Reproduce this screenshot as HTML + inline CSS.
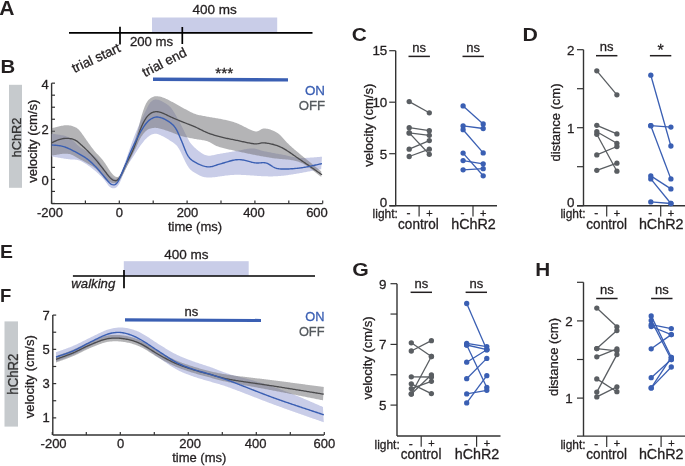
<!DOCTYPE html>
<html><head><meta charset="utf-8"><style>
html,body{margin:0;padding:0;background:#fff;}
body{width:685px;height:466px;overflow:hidden;}
svg{display:block;will-change:transform;font-family:"Liberation Sans", sans-serif;}
</style></head><body>
<svg width="685" height="466" viewBox="0 0 685 466">
<text x="0" y="0" font-size="20.5" font-weight="bold" fill="#231f20" transform="translate(-0.8 14.8) scale(1.03 1)">A</text>
<text x="0" y="0" font-size="18.5" font-weight="bold" fill="#231f20" transform="translate(0.4 72.6) scale(1.1 1)">B</text>
<text x="0" y="0" font-size="18.5" font-weight="bold" fill="#231f20" transform="translate(351.8 40.5) scale(1.13 1)">C</text>
<text x="0" y="0" font-size="18.5" font-weight="bold" fill="#231f20" transform="translate(522.6 41.1) scale(1.15 1)">D</text>
<text x="0" y="0" font-size="18.5" font-weight="bold" fill="#231f20" transform="translate(0 257.6) scale(1.05 1)">E</text>
<text x="0" y="0" font-size="18.5" font-weight="bold" fill="#231f20" transform="translate(0 301.6) scale(1 1)">F</text>
<text x="0" y="0" font-size="18.5" font-weight="bold" fill="#231f20" transform="translate(352.3 276.4) scale(1.15 1)">G</text>
<text x="0" y="0" font-size="18.5" font-weight="bold" fill="#231f20" transform="translate(535.3 276.3) scale(1.12 1)">H</text>
<rect x="152" y="17.5" width="125.2" height="15" fill="#c9cde8"/>
<line x1="69" y1="32.8" x2="312.5" y2="32.8" stroke="#000" stroke-width="1.7"/>
<line x1="120" y1="26.8" x2="120" y2="44.6" stroke="#000" stroke-width="1.7"/>
<line x1="182.3" y1="27" x2="182.3" y2="44" stroke="#000" stroke-width="1.7"/>
<text x="214.7" y="14.2" font-size="13.5" text-anchor="middle" fill="#231f20" font-weight="normal" font-style="normal" stroke="#231f20" stroke-width="0.3">400 ms</text>
<text x="151.5" y="46" font-size="13.2" text-anchor="middle" fill="#231f20" font-weight="normal" font-style="normal" stroke="#231f20" stroke-width="0.3">200 ms</text>
<text x="121.4" y="51.2" font-size="13.5" text-anchor="end" fill="#231f20" font-weight="normal" font-style="normal" stroke="#231f20" stroke-width="0.3" transform="rotate(-25 121.4 51.2)">trial start</text>
<text x="187.7" y="55.4" font-size="13.5" text-anchor="end" fill="#231f20" font-weight="normal" font-style="normal" stroke="#231f20" stroke-width="0.3" transform="rotate(-27 187.7 55.4)">trial end</text>
<line x1="51.6" y1="83.2" x2="51.6" y2="203.6" stroke="#333" stroke-width="1.4"/>
<line x1="51.6" y1="203.6" x2="322.6" y2="203.6" stroke="#333" stroke-width="1.4"/>
<line x1="51.6" y1="203.46" x2="55" y2="203.46" stroke="#333" stroke-width="1.2"/>
<line x1="51.6" y1="191.43" x2="55" y2="191.43" stroke="#333" stroke-width="1.2"/>
<line x1="51.6" y1="179.4" x2="55" y2="179.4" stroke="#333" stroke-width="1.2"/>
<line x1="51.6" y1="167.37" x2="55" y2="167.37" stroke="#333" stroke-width="1.2"/>
<line x1="51.6" y1="155.34" x2="55" y2="155.34" stroke="#333" stroke-width="1.2"/>
<line x1="51.6" y1="143.31" x2="55" y2="143.31" stroke="#333" stroke-width="1.2"/>
<line x1="51.6" y1="131.28" x2="55" y2="131.28" stroke="#333" stroke-width="1.2"/>
<line x1="51.6" y1="119.25" x2="55" y2="119.25" stroke="#333" stroke-width="1.2"/>
<line x1="51.6" y1="107.22" x2="55" y2="107.22" stroke="#333" stroke-width="1.2"/>
<line x1="51.6" y1="95.19" x2="55" y2="95.19" stroke="#333" stroke-width="1.2"/>
<line x1="51.6" y1="83.16" x2="55" y2="83.16" stroke="#333" stroke-width="1.2"/>
<line x1="51.5" y1="203.6" x2="51.5" y2="200.6" stroke="#333" stroke-width="1.2"/>
<line x1="85.4" y1="203.6" x2="85.4" y2="200.6" stroke="#333" stroke-width="1.2"/>
<line x1="119.3" y1="203.6" x2="119.3" y2="200.6" stroke="#333" stroke-width="1.2"/>
<line x1="153.2" y1="203.6" x2="153.2" y2="200.6" stroke="#333" stroke-width="1.2"/>
<line x1="187.1" y1="203.6" x2="187.1" y2="200.6" stroke="#333" stroke-width="1.2"/>
<line x1="221" y1="203.6" x2="221" y2="200.6" stroke="#333" stroke-width="1.2"/>
<line x1="254.9" y1="203.6" x2="254.9" y2="200.6" stroke="#333" stroke-width="1.2"/>
<line x1="288.8" y1="203.6" x2="288.8" y2="200.6" stroke="#333" stroke-width="1.2"/>
<line x1="322.7" y1="203.6" x2="322.7" y2="200.6" stroke="#333" stroke-width="1.2"/>
<text x="48.8" y="184.7" font-size="13" text-anchor="end" fill="#231f20" font-weight="normal" font-style="normal" stroke="#231f20" stroke-width="0.3">0</text>
<text x="48.8" y="133.7" font-size="13" text-anchor="end" fill="#231f20" font-weight="normal" font-style="normal" stroke="#231f20" stroke-width="0.3">2</text>
<text x="48.8" y="88.7" font-size="13" text-anchor="end" fill="#231f20" font-weight="normal" font-style="normal" stroke="#231f20" stroke-width="0.3">4</text>
<text x="49.9" y="217" font-size="13" text-anchor="middle" fill="#231f20" font-weight="normal" font-style="normal" stroke="#231f20" stroke-width="0.3">-200</text>
<text x="119.3" y="217" font-size="13" text-anchor="middle" fill="#231f20" font-weight="normal" font-style="normal" stroke="#231f20" stroke-width="0.3">0</text>
<text x="187.5" y="217" font-size="13" text-anchor="middle" fill="#231f20" font-weight="normal" font-style="normal" stroke="#231f20" stroke-width="0.3">200</text>
<text x="254" y="217" font-size="13" text-anchor="middle" fill="#231f20" font-weight="normal" font-style="normal" stroke="#231f20" stroke-width="0.3">400</text>
<text x="317" y="217" font-size="13" text-anchor="middle" fill="#231f20" font-weight="normal" font-style="normal" stroke="#231f20" stroke-width="0.3">600</text>
<text x="195" y="230.5" font-size="13" text-anchor="middle" fill="#231f20" font-weight="normal" font-style="normal" stroke="#231f20" stroke-width="0.3">time (ms)</text>
<text x="36.9" y="141.3" font-size="13" text-anchor="middle" fill="#231f20" font-weight="normal" font-style="normal" stroke="#231f20" stroke-width="0.3" transform="rotate(-90 36.9 141.3)">velocity (cm/s)</text>
<rect x="9" y="84.8" width="13" height="103" fill="#c6cacd"/>
<text x="21" y="137.5" font-size="12.8" text-anchor="middle" fill="#333" font-weight="normal" font-style="normal" stroke="#333" stroke-width="0.3" transform="rotate(-90 21 137.5)">hChR2</text>
<text x="325" y="94.8" font-size="13.4" text-anchor="end" fill="#3a5fb3" font-weight="normal" font-style="normal" stroke="#3a5fb3" stroke-width="0.3">ON</text>
<text x="325" y="110" font-size="13.2" text-anchor="end" fill="#555a5e" font-weight="normal" font-style="normal" stroke="#555a5e" stroke-width="0.3">OFF</text>
<polygon points="153,77.5 288,78.2 288,81.6 153,80.9" fill="#3a5fb3"/>
<text x="224.3" y="78.2" font-size="15.5" text-anchor="middle" fill="#231f20" font-weight="normal" font-style="normal" stroke="#231f20" stroke-width="0.3">***</text>
<path d="M51.80,133.70 L53.17,133.90 L53.94,134.01 L54.82,134.12 L55.78,134.25 L56.75,134.38 L57.74,134.52 L58.73,134.66 L59.72,134.81 L60.71,134.98 L61.69,135.16 L62.67,135.36 L63.64,135.58 L64.61,135.83 L65.57,136.11 L66.51,136.43 L67.43,136.79 L68.33,137.21 L69.21,137.68 L70.05,138.20 L70.86,138.78 L71.65,139.39 L72.41,140.03 L73.15,140.71 L73.87,141.40 L74.58,142.10 L75.29,142.81 L75.99,143.51 L76.71,144.21 L77.44,144.89 L78.18,145.55 L78.95,146.20 L79.74,146.81 L80.54,147.40 L81.37,147.96 L82.21,148.50 L83.06,149.01 L83.93,149.52 L84.80,150.01 L85.67,150.49 L86.55,150.97 L87.43,151.45 L88.30,151.94 L89.17,152.43 L90.03,152.93 L90.89,153.45 L91.73,153.99 L92.56,154.55 L93.37,155.13 L94.15,155.74 L94.91,156.39 L95.65,157.06 L96.35,157.77 L97.03,158.50 L97.67,159.26 L98.29,160.04 L98.90,160.84 L99.48,161.65 L100.05,162.47 L100.60,163.30 L101.15,164.14 L101.69,164.98 L102.23,165.82 L102.77,166.66 L103.32,167.50 L103.88,168.33 L104.45,169.15 L105.04,169.96 L105.64,170.75 L106.27,171.53 L106.91,172.29 L107.56,173.05 L108.23,173.79 L108.91,174.53 L109.61,175.24 L110.32,175.94 L111.05,176.61 L111.82,177.25 L112.61,177.83 L113.43,178.33 L114.28,178.71 L115.14,178.90 L115.98,178.87 L116.77,178.60 L117.50,178.10 L118.14,177.44 L118.72,176.66 L119.24,175.83 L119.72,174.96 L120.16,174.06 L120.59,173.16 L121.00,172.25 L121.40,171.33 L121.79,170.41 L122.18,169.49 L122.56,168.57 L122.94,167.64 L123.31,166.71 L123.68,165.78 L124.05,164.85 L124.41,163.92 L124.76,162.99 L125.11,162.05 L125.45,161.11 L125.79,160.17 L126.12,159.22 L126.45,158.28 L126.78,157.33 L127.10,156.39 L127.42,155.44 L127.74,154.49 L128.07,153.55 L128.39,152.60 L128.72,151.66 L129.05,150.71 L129.38,149.77 L129.71,148.83 L130.05,147.88 L130.38,146.94 L130.72,146.00 L131.06,145.06 L131.40,144.12 L131.74,143.18 L132.07,142.24 L132.42,141.30 L132.76,140.36 L133.10,139.42 L133.45,138.48 L133.81,137.55 L134.16,136.61 L134.53,135.68 L134.89,134.75 L135.26,133.82 L135.64,132.90 L136.02,131.97 L136.41,131.05 L136.80,130.13 L137.19,129.21 L137.59,128.29 L137.99,127.37 L138.39,126.46 L138.79,125.54 L139.20,124.63 L139.61,123.72 L140.02,122.81 L140.43,121.89 L140.84,120.98 L141.26,120.08 L141.68,119.17 L142.10,118.26 L142.52,117.35 L142.95,116.45 L143.38,115.55 L143.81,114.64 L144.24,113.74 L144.68,112.84 L145.11,111.94 L145.54,111.04 L145.98,110.14 L146.41,109.24 L146.85,108.34 L147.30,107.44 L147.75,106.55 L148.22,105.67 L148.71,104.80 L149.23,103.95 L149.79,103.13 L150.39,102.35 L151.06,101.63 L151.78,100.98 L152.58,100.43 L153.43,100.01 L154.34,99.72 L155.28,99.57 L156.25,99.55 L157.22,99.64 L158.18,99.83 L159.13,100.11 L160.06,100.45 L160.97,100.85 L161.87,101.28 L162.75,101.75 L163.62,102.24 L164.48,102.75 L165.33,103.28 L166.17,103.81 L167.01,104.37 L167.82,104.94 L168.61,105.54 L169.37,106.18 L170.09,106.86 L170.77,107.59 L171.41,108.35 L172.02,109.14 L172.60,109.95 L173.15,110.78 L173.69,111.63 L174.21,112.48 L174.72,113.34 L175.22,114.20 L175.72,115.07 L176.21,115.94 L176.69,116.82 L177.17,117.70 L177.65,118.57 L178.13,119.45 L178.60,120.33 L179.07,121.21 L179.54,122.10 L180.01,122.98 L180.47,123.87 L180.93,124.76 L181.39,125.65 L181.84,126.54 L182.29,127.43 L182.74,128.32 L183.19,129.22 L183.63,130.11 L184.08,131.01 L184.52,131.90 L184.97,132.80 L185.42,133.69 L185.87,134.59 L186.32,135.48 L186.77,136.37 L187.22,137.26 L187.68,138.15 L188.13,139.05 L188.59,139.93 L189.06,140.81 L189.56,141.67 L190.10,142.51 L190.68,143.31 L191.30,144.09 L191.96,144.85 L192.63,145.58 L193.33,146.29 L194.05,146.99 L194.78,147.67 L195.52,148.35 L196.27,149.00 L197.03,149.65 L197.80,150.28 L198.59,150.90 L199.38,151.51 L200.19,152.10 L201.01,152.67 L201.84,153.22 L202.69,153.75 L203.55,154.24 L204.44,154.67 L205.36,155.04 L206.30,155.32 L207.26,155.53 L208.24,155.64 L209.23,155.67 L210.21,155.63 L211.20,155.52 L212.18,155.36 L213.16,155.17 L214.14,154.95 L215.11,154.73 L216.09,154.52 L217.07,154.30 L218.05,154.11 L219.03,153.92 L220.01,153.74 L221.00,153.57 L221.98,153.40 L222.97,153.24 L223.95,153.07 L224.94,152.91 L225.93,152.74 L226.91,152.58 L227.90,152.41 L228.89,152.25 L229.87,152.09 L230.86,151.92 L231.85,151.76 L232.83,151.59 L233.82,151.43 L234.80,151.26 L235.79,151.09 L236.77,150.91 L237.76,150.73 L238.74,150.54 L239.72,150.34 L240.70,150.14 L241.68,149.94 L242.66,149.74 L243.64,149.54 L244.62,149.34 L245.60,149.16 L246.58,148.98 L247.57,148.82 L248.56,148.67 L249.55,148.56 L250.54,148.47 L251.54,148.41 L252.53,148.41 L253.52,148.46 L254.51,148.56 L255.49,148.73 L256.46,148.96 L257.41,149.23 L258.36,149.53 L259.31,149.84 L260.26,150.15 L261.22,150.44 L262.18,150.71 L263.15,150.95 L264.12,151.18 L265.10,151.39 L266.08,151.59 L267.06,151.79 L268.04,151.98 L269.02,152.17 L270.01,152.35 L270.99,152.54 L271.97,152.72 L272.95,152.91 L273.94,153.09 L274.92,153.27 L275.90,153.45 L276.89,153.63 L277.87,153.81 L278.85,153.99 L279.84,154.17 L280.82,154.36 L281.80,154.54 L282.79,154.72 L283.77,154.90 L284.75,155.09 L285.73,155.29 L286.71,155.49 L287.69,155.70 L288.66,155.92 L289.64,156.15 L290.61,156.39 L291.58,156.64 L292.55,156.87 L293.52,157.10 L294.50,157.31 L295.48,157.49 L296.47,157.64 L297.46,157.77 L298.45,157.86 L299.45,157.93 L300.45,157.97 L301.44,157.99 L302.44,157.99 L303.44,157.97 L304.44,157.95 L305.44,157.91 L306.44,157.86 L307.44,157.81 L308.44,157.75 L309.43,157.68 L310.43,157.61 L311.43,157.54 L312.43,157.47 L313.42,157.39 L314.42,157.31 L315.42,157.23 L316.41,157.15 L317.41,157.06 L318.38,156.98 L319.32,156.91 L320.17,156.84 L320.87,156.78 L322.00,156.70 L321.18,169.14 L320.58,169.25 L319.80,169.39 L318.92,169.55 L317.97,169.73 L317.00,169.91 L316.02,170.10 L315.04,170.29 L314.06,170.48 L313.07,170.67 L312.09,170.86 L311.11,171.05 L310.13,171.23 L309.15,171.42 L308.16,171.61 L307.18,171.80 L306.20,171.98 L305.22,172.17 L304.23,172.35 L303.25,172.53 L302.27,172.71 L301.28,172.89 L300.30,173.07 L299.31,173.24 L298.33,173.41 L297.34,173.58 L296.36,173.75 L295.37,173.92 L294.38,174.08 L293.40,174.24 L292.41,174.39 L291.42,174.55 L290.43,174.70 L289.44,174.84 L288.45,174.99 L287.46,175.13 L286.47,175.26 L285.48,175.39 L284.49,175.51 L283.50,175.63 L282.50,175.74 L281.51,175.85 L280.51,175.94 L279.52,176.03 L278.52,176.11 L277.52,176.18 L276.53,176.24 L275.53,176.29 L274.53,176.33 L273.53,176.36 L272.53,176.39 L271.53,176.40 L270.53,176.40 L269.53,176.40 L268.53,176.38 L267.53,176.37 L266.53,176.34 L265.53,176.31 L264.53,176.27 L263.53,176.23 L262.53,176.19 L261.53,176.13 L260.54,176.08 L259.54,176.02 L258.54,175.96 L257.54,175.90 L256.54,175.83 L255.55,175.76 L254.55,175.69 L253.55,175.62 L252.55,175.55 L251.56,175.48 L250.56,175.41 L249.56,175.34 L248.56,175.27 L247.57,175.21 L246.57,175.15 L245.57,175.08 L244.57,175.03 L243.57,174.98 L242.57,174.93 L241.57,174.89 L240.58,174.86 L239.58,174.83 L238.58,174.81 L237.58,174.81 L236.58,174.81 L235.58,174.83 L234.58,174.86 L233.58,174.90 L232.58,174.95 L231.58,175.02 L230.59,175.10 L229.59,175.18 L228.59,175.28 L227.60,175.39 L226.61,175.50 L225.62,175.62 L224.62,175.75 L223.63,175.89 L222.64,176.03 L221.65,176.17 L220.66,176.32 L219.67,176.46 L218.69,176.61 L217.70,176.75 L216.71,176.90 L215.72,177.03 L214.72,177.16 L213.73,177.27 L212.74,177.37 L211.74,177.46 L210.74,177.52 L209.75,177.55 L208.75,177.55 L207.75,177.51 L206.76,177.44 L205.77,177.33 L204.79,177.17 L203.81,176.97 L202.85,176.72 L201.90,176.42 L200.97,176.07 L200.05,175.68 L199.15,175.25 L198.27,174.78 L197.40,174.30 L196.53,173.80 L195.67,173.30 L194.81,172.79 L193.95,172.27 L193.11,171.74 L192.29,171.17 L191.51,170.56 L190.77,169.90 L190.07,169.20 L189.42,168.45 L188.80,167.67 L188.22,166.86 L187.68,166.03 L187.15,165.18 L186.66,164.31 L186.18,163.43 L185.71,162.55 L185.26,161.66 L184.82,160.76 L184.39,159.86 L183.96,158.96 L183.53,158.05 L183.11,157.14 L182.68,156.24 L182.26,155.33 L181.84,154.43 L181.41,153.52 L180.97,152.62 L180.53,151.73 L180.08,150.84 L179.61,149.95 L179.12,149.09 L178.60,148.23 L178.05,147.40 L177.47,146.60 L176.84,145.83 L176.17,145.10 L175.45,144.41 L174.71,143.75 L173.93,143.13 L173.13,142.53 L172.30,141.97 L171.46,141.43 L170.61,140.91 L169.76,140.39 L168.90,139.87 L168.04,139.36 L167.19,138.84 L166.33,138.33 L165.47,137.82 L164.60,137.32 L163.73,136.83 L162.85,136.35 L161.97,135.89 L161.07,135.45 L160.16,135.04 L159.24,134.66 L158.30,134.33 L157.36,134.05 L156.40,133.85 L155.43,133.74 L154.46,133.76 L153.50,133.89 L152.56,134.14 L151.65,134.49 L150.77,134.94 L149.93,135.45 L149.11,136.02 L148.32,136.63 L147.56,137.27 L146.83,137.94 L146.11,138.64 L145.42,139.36 L144.75,140.10 L144.10,140.86 L143.46,141.63 L142.84,142.41 L142.22,143.20 L141.62,143.99 L141.02,144.80 L140.44,145.60 L139.86,146.42 L139.29,147.24 L138.73,148.07 L138.18,148.91 L137.64,149.75 L137.10,150.59 L136.56,151.43 L136.03,152.28 L135.49,153.12 L134.95,153.96 L134.41,154.81 L133.87,155.64 L133.32,156.48 L132.77,157.31 L132.21,158.15 L131.66,158.98 L131.10,159.81 L130.55,160.64 L130.00,161.48 L129.45,162.31 L128.91,163.15 L128.38,164.00 L127.85,164.85 L127.34,165.71 L126.84,166.57 L126.35,167.45 L125.88,168.33 L125.43,169.22 L125.00,170.12 L124.59,171.03 L124.20,171.95 L123.82,172.88 L123.45,173.80 L123.08,174.74 L122.72,175.67 L122.36,176.60 L122.00,177.53 L121.62,178.46 L121.24,179.38 L120.84,180.30 L120.43,181.21 L120.01,182.12 L119.58,183.02 L119.12,183.91 L118.64,184.77 L118.10,185.60 L117.51,186.37 L116.83,187.05 L116.08,187.62 L115.24,188.04 L114.35,188.29 L113.42,188.37 L112.50,188.28 L111.60,188.01 L110.76,187.59 L109.98,187.04 L109.26,186.38 L108.59,185.66 L107.97,184.89 L107.37,184.09 L106.79,183.28 L106.20,182.47 L105.61,181.66 L105.01,180.86 L104.39,180.08 L103.76,179.31 L103.10,178.56 L102.43,177.82 L101.74,177.09 L101.05,176.37 L100.34,175.66 L99.63,174.96 L98.91,174.26 L98.19,173.58 L97.45,172.90 L96.71,172.23 L95.96,171.56 L95.21,170.91 L94.44,170.27 L93.67,169.64 L92.89,169.01 L92.10,168.39 L91.31,167.78 L90.51,167.18 L89.71,166.58 L88.91,165.99 L88.09,165.40 L87.28,164.83 L86.45,164.26 L85.62,163.71 L84.78,163.17 L83.92,162.66 L83.06,162.16 L82.17,161.69 L81.28,161.26 L80.36,160.86 L79.43,160.52 L78.48,160.23 L77.52,160.00 L76.54,159.82 L75.55,159.69 L74.56,159.61 L73.56,159.55 L72.57,159.50 L71.57,159.45 L70.57,159.39 L69.57,159.31 L68.58,159.20 L67.59,159.08 L66.60,158.94 L65.61,158.80 L64.62,158.64 L63.63,158.48 L62.65,158.32 L61.66,158.16 L60.67,158.00 L59.69,157.83 L58.70,157.67 L57.72,157.50 L56.73,157.33 L55.76,157.17 L54.81,157.01 L53.93,156.86 L53.17,156.73 L51.80,156.50 Z" fill="#c9cde8"/>
<path d="M51.80,128.20 L53.15,127.87 L53.90,127.68 L54.76,127.46 L55.69,127.23 L56.65,126.99 L57.62,126.75 L58.59,126.51 L59.57,126.28 L60.54,126.07 L61.52,125.86 L62.50,125.67 L63.49,125.50 L64.47,125.37 L65.46,125.27 L66.46,125.22 L67.45,125.22 L68.44,125.28 L69.43,125.40 L70.40,125.59 L71.37,125.82 L72.32,126.10 L73.27,126.43 L74.20,126.78 L75.11,127.17 L76.00,127.60 L76.85,128.09 L77.65,128.65 L78.39,129.29 L79.08,129.99 L79.73,130.74 L80.36,131.51 L80.97,132.30 L81.57,133.10 L82.16,133.91 L82.74,134.72 L83.32,135.54 L83.89,136.36 L84.47,137.18 L85.04,138.00 L85.61,138.82 L86.18,139.64 L86.75,140.46 L87.32,141.28 L87.90,142.10 L88.47,142.92 L89.05,143.74 L89.63,144.55 L90.21,145.36 L90.80,146.17 L91.39,146.98 L91.99,147.78 L92.60,148.57 L93.22,149.35 L93.85,150.13 L94.49,150.90 L95.14,151.66 L95.80,152.41 L96.47,153.15 L97.15,153.88 L97.83,154.62 L98.51,155.34 L99.20,156.07 L99.88,156.81 L100.55,157.54 L101.22,158.29 L101.87,159.04 L102.51,159.81 L103.13,160.59 L103.74,161.39 L104.33,162.20 L104.90,163.01 L105.46,163.84 L106.01,164.68 L106.55,165.52 L107.09,166.36 L107.62,167.21 L108.16,168.05 L108.69,168.90 L109.24,169.73 L109.79,170.57 L110.37,171.38 L110.95,172.19 L111.56,172.98 L112.19,173.76 L112.85,174.51 L113.54,175.21 L114.27,175.86 L115.05,176.41 L115.88,176.81 L116.74,177.03 L117.59,177.01 L118.41,176.76 L119.15,176.29 L119.80,175.64 L120.36,174.87 L120.85,174.03 L121.28,173.14 L121.68,172.22 L122.06,171.30 L122.42,170.37 L122.79,169.44 L123.17,168.51 L123.56,167.59 L123.96,166.68 L124.38,165.77 L124.81,164.87 L125.26,163.98 L125.71,163.08 L126.17,162.19 L126.62,161.30 L127.07,160.41 L127.52,159.52 L127.95,158.62 L128.38,157.71 L128.79,156.80 L129.19,155.89 L129.58,154.96 L129.96,154.04 L130.33,153.11 L130.68,152.17 L131.04,151.24 L131.38,150.30 L131.72,149.36 L132.06,148.42 L132.39,147.47 L132.71,146.53 L133.04,145.58 L133.36,144.64 L133.68,143.69 L134.00,142.74 L134.31,141.79 L134.62,140.84 L134.93,139.89 L135.23,138.94 L135.54,137.98 L135.84,137.03 L136.13,136.08 L136.43,135.12 L136.72,134.16 L137.00,133.20 L137.28,132.24 L137.55,131.28 L137.82,130.32 L138.08,129.35 L138.33,128.38 L138.58,127.42 L138.82,126.45 L139.07,125.48 L139.30,124.50 L139.54,123.53 L139.78,122.56 L140.02,121.59 L140.27,120.62 L140.51,119.65 L140.77,118.69 L141.02,117.72 L141.29,116.76 L141.57,115.80 L141.85,114.84 L142.15,113.88 L142.45,112.93 L142.76,111.98 L143.08,111.03 L143.40,110.08 L143.73,109.14 L144.08,108.20 L144.43,107.27 L144.80,106.34 L145.19,105.42 L145.60,104.51 L146.04,103.61 L146.52,102.74 L147.03,101.89 L147.60,101.08 L148.22,100.31 L148.90,99.59 L149.63,98.93 L150.41,98.33 L151.24,97.79 L152.11,97.32 L153.01,96.91 L153.93,96.57 L154.88,96.34 L155.84,96.20 L156.82,96.18 L157.80,96.24 L158.78,96.39 L159.75,96.59 L160.72,96.83 L161.67,97.11 L162.62,97.42 L163.57,97.75 L164.50,98.10 L165.42,98.48 L166.34,98.88 L167.25,99.30 L168.15,99.74 L169.04,100.19 L169.92,100.66 L170.79,101.14 L171.67,101.63 L172.54,102.12 L173.41,102.61 L174.28,103.10 L175.16,103.58 L176.03,104.07 L176.91,104.55 L177.78,105.04 L178.65,105.53 L179.53,106.01 L180.40,106.50 L181.28,106.98 L182.15,107.46 L183.03,107.94 L183.91,108.42 L184.79,108.89 L185.67,109.36 L186.55,109.84 L187.43,110.31 L188.31,110.79 L189.20,111.26 L190.08,111.72 L190.97,112.17 L191.87,112.61 L192.78,113.03 L193.70,113.42 L194.62,113.79 L195.56,114.12 L196.52,114.42 L197.48,114.69 L198.45,114.92 L199.42,115.13 L200.40,115.32 L201.39,115.51 L202.37,115.69 L203.35,115.88 L204.33,116.07 L205.32,116.26 L206.30,116.44 L207.28,116.63 L208.26,116.80 L209.25,116.98 L210.23,117.15 L211.22,117.32 L212.21,117.49 L213.19,117.66 L214.18,117.82 L215.16,117.99 L216.15,118.16 L217.13,118.34 L218.12,118.51 L219.10,118.69 L220.09,118.87 L221.07,119.05 L222.05,119.24 L223.03,119.43 L224.01,119.63 L224.99,119.83 L225.97,120.04 L226.95,120.25 L227.92,120.48 L228.89,120.71 L229.86,120.95 L230.83,121.21 L231.79,121.48 L232.75,121.77 L233.70,122.07 L234.65,122.39 L235.58,122.74 L236.52,123.10 L237.44,123.48 L238.36,123.87 L239.27,124.28 L240.18,124.70 L241.08,125.12 L241.98,125.56 L242.88,126.00 L243.77,126.45 L244.67,126.90 L245.56,127.35 L246.45,127.81 L247.34,128.26 L248.24,128.70 L249.14,129.14 L250.04,129.57 L250.95,129.98 L251.87,130.37 L252.80,130.73 L253.74,131.03 L254.69,131.27 L255.65,131.40 L256.60,131.41 L257.53,131.27 L258.42,130.97 L259.27,130.54 L260.08,130.03 L260.89,129.51 L261.73,129.05 L262.60,128.71 L263.53,128.52 L264.48,128.46 L265.46,128.51 L266.43,128.64 L267.41,128.83 L268.38,129.05 L269.35,129.31 L270.30,129.60 L271.25,129.92 L272.18,130.27 L273.10,130.65 L274.01,131.06 L274.91,131.50 L275.78,131.98 L276.64,132.48 L277.48,133.03 L278.29,133.60 L279.07,134.22 L279.83,134.87 L280.56,135.54 L281.27,136.25 L281.96,136.97 L282.64,137.70 L283.31,138.45 L283.97,139.20 L284.63,139.94 L285.30,140.69 L285.97,141.43 L286.65,142.16 L287.34,142.89 L288.04,143.60 L288.75,144.31 L289.47,145.00 L290.19,145.69 L290.93,146.36 L291.67,147.03 L292.43,147.69 L293.18,148.34 L293.94,149.00 L294.70,149.64 L295.46,150.29 L296.23,150.93 L297.00,151.58 L297.76,152.22 L298.53,152.86 L299.30,153.49 L300.07,154.13 L300.84,154.77 L301.62,155.40 L302.39,156.04 L303.16,156.67 L303.93,157.31 L304.71,157.94 L305.48,158.57 L306.26,159.21 L307.03,159.84 L307.81,160.47 L308.58,161.10 L309.36,161.73 L310.13,162.36 L310.91,162.99 L311.69,163.62 L312.46,164.25 L313.24,164.88 L314.02,165.51 L314.79,166.14 L315.57,166.77 L316.35,167.40 L317.12,168.03 L317.90,168.66 L318.67,169.29 L319.42,169.90 L320.13,170.48 L320.76,170.99 L321.27,171.40 L321.22,177.01 L320.70,176.60 L320.06,176.09 L319.34,175.52 L318.59,174.91 L317.82,174.28 L317.04,173.65 L316.27,173.02 L315.49,172.39 L314.71,171.77 L313.93,171.14 L313.14,170.53 L312.35,169.92 L311.55,169.31 L310.75,168.71 L309.95,168.12 L309.13,167.54 L308.31,166.97 L307.49,166.40 L306.65,165.86 L305.81,165.32 L304.95,164.80 L304.09,164.30 L303.21,163.82 L302.33,163.36 L301.43,162.93 L300.51,162.53 L299.59,162.15 L298.65,161.81 L297.70,161.50 L296.74,161.22 L295.78,160.96 L294.81,160.73 L293.83,160.52 L292.85,160.33 L291.87,160.16 L290.88,160.00 L289.89,159.86 L288.90,159.73 L287.90,159.61 L286.91,159.50 L285.92,159.40 L284.92,159.31 L283.92,159.22 L282.93,159.13 L281.93,159.05 L280.94,158.96 L279.94,158.88 L278.94,158.79 L277.95,158.70 L276.95,158.60 L275.96,158.50 L274.96,158.39 L273.97,158.26 L272.98,158.13 L271.99,157.98 L271.00,157.83 L270.02,157.67 L269.03,157.51 L268.04,157.34 L267.06,157.17 L266.07,157.01 L265.09,156.84 L264.10,156.67 L263.12,156.49 L262.13,156.32 L261.15,156.14 L260.16,155.96 L259.18,155.78 L258.20,155.60 L257.22,155.41 L256.23,155.22 L255.25,155.03 L254.27,154.83 L253.29,154.64 L252.31,154.44 L251.33,154.24 L250.35,154.03 L249.37,153.83 L248.39,153.63 L247.42,153.42 L246.44,153.22 L245.46,153.01 L244.48,152.81 L243.50,152.60 L242.52,152.40 L241.54,152.19 L240.56,151.98 L239.59,151.78 L238.61,151.57 L237.63,151.36 L236.65,151.15 L235.68,150.93 L234.70,150.72 L233.72,150.51 L232.75,150.29 L231.77,150.07 L230.79,149.85 L229.82,149.63 L228.85,149.41 L227.87,149.18 L226.90,148.95 L225.93,148.72 L224.95,148.48 L223.98,148.24 L223.02,147.99 L222.05,147.74 L221.08,147.47 L220.12,147.20 L219.17,146.91 L218.22,146.60 L217.28,146.26 L216.35,145.89 L215.44,145.49 L214.55,145.04 L213.67,144.57 L212.81,144.06 L211.97,143.54 L211.12,143.02 L210.25,142.52 L209.37,142.06 L208.47,141.65 L207.54,141.30 L206.59,141.00 L205.63,140.75 L204.65,140.53 L203.67,140.34 L202.69,140.17 L201.70,140.02 L200.71,139.87 L199.72,139.73 L198.73,139.59 L197.74,139.44 L196.76,139.29 L195.77,139.12 L194.79,138.94 L193.80,138.76 L192.82,138.57 L191.84,138.37 L190.86,138.18 L189.88,137.98 L188.90,137.78 L187.92,137.58 L186.94,137.37 L185.96,137.17 L184.99,136.96 L184.01,136.74 L183.04,136.52 L182.06,136.29 L181.10,136.03 L180.14,135.75 L179.20,135.44 L178.27,135.08 L177.36,134.69 L176.45,134.29 L175.54,133.89 L174.62,133.51 L173.69,133.14 L172.75,132.79 L171.81,132.45 L170.87,132.11 L169.93,131.78 L168.98,131.45 L168.04,131.12 L167.09,130.79 L166.15,130.47 L165.20,130.15 L164.25,129.83 L163.30,129.52 L162.35,129.22 L161.39,128.93 L160.43,128.66 L159.46,128.41 L158.49,128.19 L157.51,128.01 L156.53,127.89 L155.54,127.82 L154.55,127.82 L153.56,127.88 L152.57,127.99 L151.59,128.16 L150.63,128.39 L149.69,128.69 L148.79,129.07 L147.92,129.54 L147.10,130.09 L146.33,130.70 L145.60,131.37 L144.90,132.07 L144.23,132.81 L143.58,133.58 L142.96,134.36 L142.36,135.16 L141.78,135.97 L141.23,136.80 L140.70,137.64 L140.19,138.50 L139.72,139.38 L139.28,140.28 L138.86,141.18 L138.45,142.10 L138.06,143.02 L137.67,143.94 L137.27,144.85 L136.86,145.76 L136.44,146.67 L136.01,147.58 L135.58,148.47 L135.13,149.37 L134.69,150.27 L134.24,151.16 L133.79,152.06 L133.35,152.95 L132.90,153.85 L132.46,154.74 L132.02,155.64 L131.59,156.54 L131.16,157.45 L130.74,158.35 L130.31,159.26 L129.90,160.17 L129.48,161.08 L129.07,161.99 L128.65,162.90 L128.24,163.81 L127.82,164.71 L127.39,165.62 L126.96,166.52 L126.53,167.42 L126.09,168.32 L125.65,169.22 L125.21,170.12 L124.77,171.02 L124.33,171.91 L123.88,172.81 L123.43,173.70 L122.98,174.59 L122.52,175.48 L122.05,176.36 L121.57,177.24 L121.08,178.11 L120.56,178.96 L120.02,179.79 L119.43,180.59 L118.78,181.33 L118.07,181.99 L117.30,182.55 L116.45,182.97 L115.56,183.24 L114.62,183.36 L113.67,183.32 L112.72,183.16 L111.76,182.92 L110.82,182.62 L109.89,182.28 L108.98,181.88 L108.10,181.43 L107.25,180.91 L106.45,180.34 L105.69,179.71 L104.96,179.03 L104.27,178.31 L103.61,177.57 L102.97,176.80 L102.34,176.03 L101.71,175.25 L101.09,174.46 L100.47,173.68 L99.83,172.91 L99.18,172.15 L98.52,171.40 L97.84,170.67 L97.14,169.96 L96.41,169.28 L95.66,168.62 L94.89,167.99 L94.10,167.38 L93.29,166.80 L92.46,166.24 L91.62,165.70 L90.77,165.17 L89.91,164.66 L89.05,164.15 L88.18,163.66 L87.31,163.18 L86.43,162.70 L85.55,162.22 L84.67,161.75 L83.78,161.29 L82.90,160.82 L82.01,160.35 L81.13,159.88 L80.25,159.41 L79.38,158.92 L78.51,158.43 L77.65,157.92 L76.79,157.41 L75.93,156.90 L75.07,156.39 L74.19,155.91 L73.31,155.45 L72.41,155.03 L71.48,154.66 L70.54,154.34 L69.59,154.09 L68.61,153.90 L67.63,153.77 L66.64,153.70 L65.64,153.69 L64.65,153.71 L63.65,153.78 L62.66,153.87 L61.67,153.98 L60.67,154.11 L59.68,154.26 L58.70,154.41 L57.71,154.58 L56.73,154.75 L55.76,154.92 L54.81,155.09 L53.93,155.24 L53.17,155.37 L51.80,155.60 Z" fill="rgb(118,118,122)" fill-opacity="0.55"/>
<path d="M51.80,142.80 L53.04,142.18 L53.74,141.84 L54.54,141.45 L55.41,141.04 L56.31,140.64 L57.23,140.26 L58.16,139.90 L59.10,139.58 L60.06,139.29 L61.02,139.04 L62.00,138.82 L62.98,138.63 L63.96,138.48 L64.95,138.37 L65.94,138.31 L66.94,138.30 L67.93,138.34 L68.92,138.43 L69.91,138.57 L70.89,138.75 L71.86,138.97 L72.82,139.24 L73.77,139.55 L74.69,139.91 L75.58,140.33 L76.44,140.82 L77.25,141.38 L78.02,141.99 L78.78,142.65 L79.51,143.32 L80.25,143.99 L80.99,144.67 L81.73,145.34 L82.47,146.00 L83.22,146.68 L83.95,147.35 L84.69,148.03 L85.42,148.71 L86.14,149.40 L86.86,150.10 L87.57,150.80 L88.28,151.51 L88.97,152.22 L89.67,152.95 L90.35,153.67 L91.04,154.40 L91.71,155.14 L92.38,155.88 L93.05,156.63 L93.71,157.37 L94.37,158.13 L95.03,158.88 L95.68,159.64 L96.32,160.41 L96.96,161.18 L97.59,161.95 L98.22,162.73 L98.85,163.50 L99.48,164.29 L100.10,165.07 L100.72,165.85 L101.34,166.64 L101.96,167.42 L102.57,168.21 L103.19,169.00 L103.80,169.79 L104.40,170.59 L105.01,171.38 L105.61,172.18 L106.21,172.98 L106.81,173.78 L107.42,174.58 L108.04,175.36 L108.67,176.13 L109.32,176.89 L110.00,177.62 L110.71,178.32 L111.45,178.97 L112.23,179.57 L113.05,180.09 L113.91,180.48 L114.79,180.71 L115.66,180.73 L116.51,180.53 L117.29,180.11 L118.01,179.52 L118.66,178.81 L119.25,178.03 L119.80,177.20 L120.31,176.35 L120.80,175.47 L121.26,174.59 L121.71,173.70 L122.14,172.79 L122.56,171.89 L122.97,170.97 L123.37,170.06 L123.77,169.14 L124.16,168.22 L124.56,167.31 L124.96,166.39 L125.37,165.48 L125.78,164.57 L126.21,163.66 L126.65,162.76 L127.10,161.87 L127.56,160.98 L128.02,160.10 L128.50,159.22 L128.98,158.34 L129.45,157.46 L129.92,156.58 L130.39,155.69 L130.84,154.80 L131.28,153.91 L131.70,153.00 L132.12,152.09 L132.52,151.18 L132.91,150.26 L133.30,149.33 L133.67,148.41 L134.04,147.48 L134.40,146.55 L134.76,145.61 L135.11,144.68 L135.46,143.74 L135.80,142.80 L136.14,141.86 L136.47,140.91 L136.80,139.97 L137.11,139.02 L137.43,138.07 L137.73,137.12 L138.04,136.17 L138.35,135.22 L138.66,134.27 L138.98,133.32 L139.30,132.37 L139.63,131.43 L139.97,130.49 L140.32,129.55 L140.68,128.62 L141.06,127.69 L141.45,126.77 L141.86,125.86 L142.27,124.95 L142.70,124.05 L143.14,123.15 L143.59,122.26 L144.06,121.38 L144.55,120.50 L145.06,119.64 L145.59,118.80 L146.15,117.97 L146.74,117.17 L147.36,116.40 L148.02,115.65 L148.72,114.95 L149.47,114.29 L150.25,113.69 L151.07,113.14 L151.94,112.67 L152.84,112.28 L153.77,111.99 L154.73,111.79 L155.70,111.70 L156.69,111.69 L157.67,111.77 L158.65,111.92 L159.62,112.13 L160.58,112.39 L161.53,112.69 L162.47,113.03 L163.40,113.40 L164.31,113.80 L165.21,114.23 L166.11,114.67 L167.00,115.12 L167.89,115.57 L168.79,116.01 L169.69,116.45 L170.60,116.87 L171.51,117.28 L172.42,117.69 L173.34,118.09 L174.26,118.48 L175.18,118.87 L176.10,119.25 L177.03,119.64 L177.95,120.02 L178.88,120.40 L179.80,120.78 L180.73,121.15 L181.65,121.53 L182.58,121.90 L183.51,122.28 L184.44,122.65 L185.37,123.02 L186.30,123.38 L187.23,123.74 L188.16,124.10 L189.10,124.45 L190.03,124.81 L190.97,125.17 L191.90,125.53 L192.83,125.90 L193.75,126.29 L194.67,126.69 L195.58,127.10 L196.48,127.52 L197.38,127.96 L198.28,128.40 L199.17,128.85 L200.06,129.30 L200.96,129.75 L201.85,130.20 L202.74,130.65 L203.64,131.09 L204.55,131.51 L205.46,131.93 L206.37,132.33 L207.29,132.72 L208.22,133.09 L209.16,133.44 L210.10,133.78 L211.04,134.10 L211.99,134.42 L212.94,134.72 L213.90,135.02 L214.86,135.30 L215.82,135.58 L216.78,135.85 L217.74,136.12 L218.71,136.38 L219.67,136.64 L220.64,136.89 L221.61,137.14 L222.58,137.38 L223.55,137.62 L224.53,137.85 L225.50,138.07 L226.48,138.28 L227.46,138.49 L228.43,138.69 L229.41,138.89 L230.40,139.09 L231.38,139.28 L232.36,139.47 L233.34,139.67 L234.32,139.87 L235.30,140.07 L236.28,140.27 L237.25,140.48 L238.23,140.69 L239.21,140.90 L240.19,141.11 L241.16,141.33 L242.14,141.54 L243.12,141.75 L244.10,141.96 L245.07,142.17 L246.05,142.38 L247.03,142.58 L248.01,142.78 L248.99,142.97 L249.98,143.16 L250.96,143.33 L251.94,143.50 L252.93,143.65 L253.92,143.77 L254.91,143.86 L255.90,143.89 L256.89,143.85 L257.86,143.73 L258.83,143.54 L259.79,143.31 L260.75,143.09 L261.71,142.92 L262.69,142.84 L263.68,142.83 L264.66,142.89 L265.66,142.99 L266.65,143.12 L267.63,143.27 L268.62,143.44 L269.60,143.62 L270.58,143.81 L271.56,144.02 L272.53,144.25 L273.50,144.50 L274.46,144.77 L275.42,145.05 L276.37,145.36 L277.31,145.69 L278.25,146.04 L279.17,146.42 L280.09,146.82 L280.99,147.24 L281.89,147.68 L282.77,148.15 L283.65,148.63 L284.51,149.13 L285.37,149.64 L286.22,150.16 L287.07,150.70 L287.91,151.24 L288.74,151.79 L289.57,152.35 L290.40,152.91 L291.22,153.48 L292.04,154.05 L292.86,154.62 L293.68,155.20 L294.50,155.77 L295.32,156.34 L296.14,156.91 L296.96,157.48 L297.79,158.05 L298.61,158.62 L299.44,159.18 L300.26,159.74 L301.09,160.31 L301.92,160.87 L302.75,161.43 L303.57,161.99 L304.40,162.56 L305.22,163.13 L306.05,163.69 L306.87,164.26 L307.69,164.83 L308.51,165.40 L309.33,165.97 L310.16,166.54 L310.98,167.11 L311.80,167.68 L312.62,168.25 L313.44,168.82 L314.26,169.40 L315.08,169.97 L315.90,170.54 L316.72,171.11 L317.54,171.69 L318.35,172.26 L319.15,172.81 L319.91,173.35 L320.60,173.82 L321.15,174.21 L322.00,174.80" fill="none" stroke="#4a4a4c" stroke-width="1.3"/>
<path d="M51.80,145.00 L53.18,145.10 L53.95,145.16 L54.85,145.23 L55.80,145.31 L56.79,145.40 L57.78,145.50 L58.77,145.62 L59.76,145.76 L60.74,145.93 L61.72,146.13 L62.69,146.36 L63.65,146.63 L64.60,146.93 L65.55,147.25 L66.48,147.61 L67.40,147.99 L68.32,148.39 L69.23,148.80 L70.13,149.23 L71.03,149.66 L71.93,150.11 L72.82,150.56 L73.71,151.02 L74.60,151.48 L75.48,151.94 L76.36,152.41 L77.24,152.89 L78.12,153.37 L79.00,153.85 L79.87,154.34 L80.74,154.83 L81.61,155.33 L82.47,155.83 L83.33,156.35 L84.18,156.88 L85.01,157.42 L85.84,157.98 L86.65,158.56 L87.45,159.16 L88.24,159.78 L89.02,160.41 L89.78,161.05 L90.53,161.71 L91.27,162.38 L92.01,163.06 L92.73,163.75 L93.45,164.45 L94.15,165.15 L94.85,165.87 L95.55,166.59 L96.23,167.32 L96.91,168.06 L97.57,168.80 L98.24,169.55 L98.89,170.30 L99.54,171.06 L100.19,171.83 L100.83,172.59 L101.48,173.35 L102.12,174.12 L102.76,174.89 L103.40,175.66 L104.04,176.43 L104.67,177.20 L105.30,177.98 L105.92,178.76 L106.55,179.54 L107.19,180.31 L107.83,181.07 L108.50,181.82 L109.19,182.53 L109.92,183.20 L110.69,183.80 L111.51,184.30 L112.37,184.67 L113.26,184.87 L114.15,184.87 L115.00,184.65 L115.78,184.23 L116.48,183.63 L117.09,182.90 L117.64,182.09 L118.14,181.23 L118.60,180.35 L119.05,179.46 L119.48,178.55 L119.90,177.65 L120.32,176.74 L120.73,175.83 L121.14,174.92 L121.55,174.00 L121.95,173.09 L122.36,172.17 L122.75,171.26 L123.15,170.34 L123.54,169.42 L123.93,168.50 L124.31,167.57 L124.70,166.65 L125.08,165.73 L125.46,164.80 L125.83,163.87 L126.21,162.95 L126.57,162.01 L126.93,161.08 L127.28,160.14 L127.62,159.20 L127.96,158.27 L128.31,157.33 L128.67,156.39 L129.04,155.47 L129.42,154.54 L129.81,153.62 L130.21,152.70 L130.61,151.79 L131.02,150.88 L131.43,149.97 L131.85,149.06 L132.27,148.15 L132.70,147.25 L133.12,146.34 L133.56,145.44 L133.99,144.54 L134.43,143.64 L134.88,142.75 L135.32,141.85 L135.77,140.96 L136.22,140.06 L136.67,139.17 L137.13,138.28 L137.59,137.39 L138.05,136.51 L138.52,135.63 L139.00,134.75 L139.48,133.87 L139.97,133.00 L140.47,132.13 L140.97,131.27 L141.48,130.41 L141.99,129.55 L142.51,128.69 L143.04,127.84 L143.57,127.00 L144.12,126.16 L144.68,125.34 L145.26,124.52 L145.86,123.73 L146.49,122.95 L147.15,122.20 L147.84,121.48 L148.56,120.80 L149.32,120.16 L150.11,119.56 L150.94,119.01 L151.79,118.50 L152.67,118.06 L153.58,117.67 L154.52,117.37 L155.47,117.17 L156.44,117.07 L157.42,117.07 L158.40,117.16 L159.38,117.33 L160.34,117.55 L161.30,117.83 L162.24,118.15 L163.17,118.50 L164.09,118.90 L164.98,119.34 L165.87,119.80 L166.73,120.30 L167.59,120.82 L168.43,121.36 L169.25,121.92 L170.06,122.50 L170.86,123.10 L171.63,123.74 L172.37,124.40 L173.08,125.10 L173.76,125.82 L174.40,126.59 L175.00,127.38 L175.57,128.20 L176.10,129.04 L176.59,129.91 L177.06,130.79 L177.51,131.68 L177.94,132.59 L178.35,133.49 L178.76,134.41 L179.15,135.33 L179.55,136.25 L179.94,137.17 L180.33,138.09 L180.72,139.01 L181.12,139.92 L181.51,140.84 L181.90,141.76 L182.29,142.69 L182.66,143.61 L183.03,144.54 L183.40,145.47 L183.76,146.40 L184.12,147.34 L184.49,148.27 L184.85,149.20 L185.23,150.13 L185.61,151.05 L186.01,151.97 L186.42,152.87 L186.86,153.77 L187.33,154.65 L187.83,155.51 L188.37,156.35 L188.94,157.16 L189.57,157.94 L190.23,158.67 L190.94,159.36 L191.70,160.00 L192.50,160.60 L193.32,161.15 L194.17,161.68 L195.03,162.18 L195.91,162.66 L196.79,163.13 L197.68,163.58 L198.58,164.02 L199.49,164.43 L200.40,164.83 L201.33,165.21 L202.26,165.56 L203.21,165.89 L204.16,166.18 L205.12,166.43 L206.10,166.63 L207.08,166.78 L208.06,166.86 L209.05,166.86 L210.04,166.80 L211.02,166.66 L211.99,166.46 L212.96,166.21 L213.91,165.93 L214.86,165.62 L215.81,165.31 L216.76,164.99 L217.71,164.69 L218.67,164.40 L219.63,164.12 L220.59,163.84 L221.55,163.57 L222.51,163.29 L223.47,163.01 L224.43,162.72 L225.39,162.43 L226.34,162.14 L227.30,161.85 L228.26,161.57 L229.22,161.29 L230.18,161.02 L231.15,160.77 L232.12,160.53 L233.09,160.30 L234.07,160.10 L235.05,159.93 L236.04,159.79 L237.03,159.68 L238.03,159.62 L239.02,159.60 L240.02,159.62 L241.01,159.70 L242.00,159.82 L242.98,159.97 L243.96,160.16 L244.94,160.38 L245.91,160.61 L246.88,160.87 L247.84,161.13 L248.80,161.41 L249.76,161.68 L250.73,161.94 L251.69,162.20 L252.66,162.43 L253.64,162.64 L254.62,162.80 L255.61,162.92 L256.60,162.99 L257.60,163.00 L258.59,162.98 L259.59,162.91 L260.58,162.83 L261.58,162.74 L262.57,162.67 L263.56,162.65 L264.55,162.70 L265.52,162.83 L266.47,163.06 L267.39,163.38 L268.28,163.80 L269.14,164.29 L269.97,164.82 L270.80,165.39 L271.62,165.96 L272.45,166.50 L273.30,167.01 L274.18,167.47 L275.09,167.86 L276.02,168.19 L276.98,168.45 L277.95,168.65 L278.94,168.79 L279.93,168.90 L280.92,168.98 L281.92,169.02 L282.92,169.05 L283.92,169.07 L284.92,169.06 L285.92,169.05 L286.92,169.02 L287.92,168.99 L288.91,168.94 L289.91,168.89 L290.91,168.82 L291.91,168.76 L292.91,168.68 L293.90,168.60 L294.90,168.51 L295.89,168.42 L296.89,168.33 L297.88,168.22 L298.88,168.11 L299.87,168.00 L300.86,167.87 L301.85,167.73 L302.84,167.59 L303.83,167.43 L304.81,167.26 L305.80,167.09 L306.78,166.90 L307.76,166.71 L308.74,166.52 L309.72,166.32 L310.70,166.11 L311.68,165.91 L312.66,165.69 L313.63,165.48 L314.61,165.26 L315.59,165.04 L316.56,164.82 L317.53,164.60 L318.49,164.38 L319.40,164.17 L320.23,163.99 L320.91,163.84 L322.00,163.60 L322.00,163.60" fill="none" stroke="#3a5fb3" stroke-width="1.4"/>
<rect x="123.8" y="261.2" width="124.9" height="14.5" fill="#c9cde8"/>
<line x1="72.9" y1="276" x2="315" y2="276" stroke="#000" stroke-width="1.7"/>
<line x1="124" y1="270" x2="124" y2="288.2" stroke="#000" stroke-width="1.7"/>
<text x="186.3" y="259.3" font-size="13.5" text-anchor="middle" fill="#231f20" font-weight="normal" font-style="normal" stroke="#231f20" stroke-width="0.3">400 ms</text>
<text x="71.3" y="287.6" font-size="13.2" text-anchor="start" fill="#231f20" font-weight="normal" font-style="italic" stroke="#231f20" stroke-width="0.3">walking</text>
<line x1="52.8" y1="315.1" x2="52.8" y2="435" stroke="#333" stroke-width="1.4"/>
<line x1="52.8" y1="435" x2="324" y2="435" stroke="#333" stroke-width="1.4"/>
<line x1="52.8" y1="417.87" x2="56.2" y2="417.87" stroke="#333" stroke-width="1.2"/>
<line x1="52.8" y1="400.74" x2="56.2" y2="400.74" stroke="#333" stroke-width="1.2"/>
<line x1="52.8" y1="383.61" x2="56.2" y2="383.61" stroke="#333" stroke-width="1.2"/>
<line x1="52.8" y1="366.48" x2="56.2" y2="366.48" stroke="#333" stroke-width="1.2"/>
<line x1="52.8" y1="349.35" x2="56.2" y2="349.35" stroke="#333" stroke-width="1.2"/>
<line x1="52.8" y1="332.22" x2="56.2" y2="332.22" stroke="#333" stroke-width="1.2"/>
<line x1="52.8" y1="315.09" x2="56.2" y2="315.09" stroke="#333" stroke-width="1.2"/>
<line x1="52.3" y1="435" x2="52.3" y2="432" stroke="#333" stroke-width="1.2"/>
<line x1="86.3" y1="435" x2="86.3" y2="432" stroke="#333" stroke-width="1.2"/>
<line x1="120.3" y1="435" x2="120.3" y2="432" stroke="#333" stroke-width="1.2"/>
<line x1="154.3" y1="435" x2="154.3" y2="432" stroke="#333" stroke-width="1.2"/>
<line x1="188.3" y1="435" x2="188.3" y2="432" stroke="#333" stroke-width="1.2"/>
<line x1="222.3" y1="435" x2="222.3" y2="432" stroke="#333" stroke-width="1.2"/>
<line x1="256.3" y1="435" x2="256.3" y2="432" stroke="#333" stroke-width="1.2"/>
<line x1="290.3" y1="435" x2="290.3" y2="432" stroke="#333" stroke-width="1.2"/>
<line x1="324.3" y1="435" x2="324.3" y2="432" stroke="#333" stroke-width="1.2"/>
<text x="49.8" y="422.37" font-size="13" text-anchor="end" fill="#231f20" font-weight="normal" font-style="normal" stroke="#231f20" stroke-width="0.3">1</text>
<text x="49.8" y="388.11" font-size="13" text-anchor="end" fill="#231f20" font-weight="normal" font-style="normal" stroke="#231f20" stroke-width="0.3">3</text>
<text x="49.8" y="353.85" font-size="13" text-anchor="end" fill="#231f20" font-weight="normal" font-style="normal" stroke="#231f20" stroke-width="0.3">5</text>
<text x="49.8" y="319.59" font-size="13" text-anchor="end" fill="#231f20" font-weight="normal" font-style="normal" stroke="#231f20" stroke-width="0.3">7</text>
<text x="53.6" y="448.2" font-size="13" text-anchor="middle" fill="#231f20" font-weight="normal" font-style="normal" stroke="#231f20" stroke-width="0.3">-200</text>
<text x="120.6" y="448.2" font-size="13" text-anchor="middle" fill="#231f20" font-weight="normal" font-style="normal" stroke="#231f20" stroke-width="0.3">0</text>
<text x="190.1" y="448.2" font-size="13" text-anchor="middle" fill="#231f20" font-weight="normal" font-style="normal" stroke="#231f20" stroke-width="0.3">200</text>
<text x="255.7" y="448.2" font-size="13" text-anchor="middle" fill="#231f20" font-weight="normal" font-style="normal" stroke="#231f20" stroke-width="0.3">400</text>
<text x="324.3" y="448.2" font-size="13" text-anchor="middle" fill="#231f20" font-weight="normal" font-style="normal" stroke="#231f20" stroke-width="0.3">600</text>
<text x="199.3" y="462" font-size="13" text-anchor="middle" fill="#231f20" font-weight="normal" font-style="normal" stroke="#231f20" stroke-width="0.3">time (ms)</text>
<text x="33.8" y="376.8" font-size="13" text-anchor="middle" fill="#231f20" font-weight="normal" font-style="normal" stroke="#231f20" stroke-width="0.3" transform="rotate(-90 33.8 376.8)">velocity (cm/s)</text>
<rect x="4.5" y="321.4" width="13.5" height="105.2" fill="#c6cacd"/>
<text x="18.2" y="374.2" font-size="15.2" text-anchor="middle" fill="#333" stroke="#333" stroke-width="0.3" textLength="41" lengthAdjust="spacingAndGlyphs" transform="rotate(-90 18.2 374.2)">hChR2</text>
<text x="324.5" y="321" font-size="12.8" text-anchor="end" fill="#3a5fb3" font-weight="normal" font-style="normal" stroke="#3a5fb3" stroke-width="0.3">ON</text>
<text x="324.5" y="335.5" font-size="12.8" text-anchor="end" fill="#555a5e" font-weight="normal" font-style="normal" stroke="#555a5e" stroke-width="0.3">OFF</text>
<polygon points="125,318.3 261,318.9 261,322.1 125,321.5" fill="#3a5fb3"/>
<text x="191.3" y="315.6" font-size="13" text-anchor="middle" fill="#231f20" font-weight="normal" font-style="normal" stroke="#231f20" stroke-width="0.3">ns</text>
<path d="M56.00,352.20 L57.31,351.74 L58.04,351.49 L58.88,351.19 L59.79,350.88 L60.72,350.55 L61.66,350.22 L62.61,349.89 L63.55,349.56 L64.49,349.23 L65.44,348.89 L66.38,348.55 L67.32,348.20 L68.25,347.86 L69.19,347.50 L70.12,347.14 L71.05,346.78 L71.98,346.40 L72.90,346.02 L73.82,345.62 L74.73,345.22 L75.65,344.81 L76.55,344.39 L77.46,343.96 L78.36,343.53 L79.26,343.09 L80.15,342.64 L81.05,342.20 L81.94,341.75 L82.83,341.29 L83.72,340.84 L84.61,340.39 L85.51,339.94 L86.40,339.49 L87.30,339.05 L88.19,338.60 L89.09,338.16 L89.99,337.72 L90.89,337.28 L91.78,336.84 L92.68,336.40 L93.58,335.96 L94.48,335.51 L95.37,335.07 L96.27,334.63 L97.17,334.19 L98.07,333.76 L98.97,333.32 L99.87,332.89 L100.78,332.47 L101.68,332.05 L102.60,331.64 L103.51,331.24 L104.43,330.85 L105.36,330.48 L106.30,330.12 L107.24,329.79 L108.19,329.49 L109.15,329.21 L110.11,328.96 L111.08,328.72 L112.06,328.51 L113.04,328.31 L114.02,328.12 L115.01,327.95 L115.99,327.80 L116.98,327.67 L117.98,327.57 L118.97,327.50 L119.97,327.47 L120.97,327.47 L121.96,327.50 L122.96,327.56 L123.96,327.65 L124.95,327.77 L125.94,327.91 L126.92,328.08 L127.90,328.27 L128.88,328.49 L129.85,328.72 L130.81,328.98 L131.77,329.25 L132.73,329.54 L133.68,329.84 L134.63,330.16 L135.57,330.49 L136.51,330.85 L137.43,331.22 L138.35,331.62 L139.26,332.04 L140.16,332.47 L141.05,332.92 L141.93,333.39 L142.80,333.88 L143.67,334.38 L144.53,334.89 L145.38,335.41 L146.23,335.94 L147.07,336.48 L147.91,337.02 L148.75,337.57 L149.58,338.12 L150.41,338.68 L151.24,339.23 L152.08,339.79 L152.91,340.34 L153.74,340.90 L154.57,341.45 L155.41,342.00 L156.25,342.55 L157.09,343.09 L157.93,343.63 L158.77,344.16 L159.62,344.69 L160.47,345.22 L161.32,345.75 L162.17,346.28 L163.02,346.80 L163.87,347.33 L164.72,347.86 L165.57,348.38 L166.42,348.90 L167.28,349.42 L168.14,349.94 L168.99,350.45 L169.86,350.96 L170.72,351.46 L171.59,351.96 L172.46,352.45 L173.34,352.93 L174.22,353.40 L175.10,353.87 L175.99,354.32 L176.89,354.76 L177.79,355.20 L178.69,355.62 L179.60,356.04 L180.52,356.44 L181.44,356.84 L182.36,357.23 L183.28,357.61 L184.21,357.98 L185.14,358.35 L186.07,358.71 L187.01,359.06 L187.94,359.42 L188.88,359.77 L189.82,360.11 L190.76,360.46 L191.70,360.80 L192.63,361.14 L193.58,361.48 L194.52,361.82 L195.46,362.15 L196.41,362.48 L197.35,362.80 L198.30,363.12 L199.25,363.43 L200.20,363.74 L201.15,364.04 L202.11,364.35 L203.06,364.65 L204.01,364.96 L204.96,365.26 L205.92,365.57 L206.87,365.88 L207.82,366.19 L208.76,366.51 L209.71,366.83 L210.65,367.16 L211.60,367.50 L212.53,367.84 L213.47,368.19 L214.41,368.55 L215.34,368.91 L216.27,369.28 L217.20,369.64 L218.13,370.01 L219.06,370.38 L219.99,370.74 L220.92,371.10 L221.86,371.46 L222.79,371.81 L223.73,372.16 L224.67,372.50 L225.61,372.83 L226.56,373.16 L227.51,373.48 L228.46,373.79 L229.41,374.10 L230.36,374.40 L231.32,374.69 L232.28,374.97 L233.24,375.25 L234.20,375.52 L235.16,375.79 L236.13,376.05 L237.10,376.31 L238.06,376.56 L239.03,376.82 L240.00,377.07 L240.96,377.32 L241.93,377.57 L242.90,377.82 L243.87,378.07 L244.84,378.32 L245.81,378.57 L246.77,378.82 L247.74,379.07 L248.71,379.33 L249.68,379.58 L250.64,379.84 L251.61,380.10 L252.57,380.36 L253.54,380.62 L254.50,380.89 L255.46,381.16 L256.42,381.44 L257.38,381.72 L258.34,382.00 L259.30,382.29 L260.26,382.59 L261.21,382.88 L262.16,383.18 L263.12,383.49 L264.07,383.79 L265.02,384.10 L265.97,384.41 L266.92,384.72 L267.87,385.03 L268.82,385.35 L269.77,385.66 L270.72,385.98 L271.67,386.30 L272.61,386.63 L273.56,386.95 L274.50,387.28 L275.45,387.61 L276.39,387.95 L277.33,388.28 L278.27,388.62 L279.21,388.96 L280.15,389.30 L281.09,389.64 L282.03,389.98 L282.97,390.33 L283.91,390.68 L284.84,391.03 L285.78,391.38 L286.71,391.74 L287.65,392.10 L288.58,392.46 L289.51,392.82 L290.44,393.18 L291.37,393.55 L292.30,393.92 L293.23,394.29 L294.16,394.66 L295.09,395.04 L296.01,395.42 L296.94,395.80 L297.86,396.18 L298.78,396.57 L299.71,396.95 L300.63,397.34 L301.55,397.73 L302.47,398.12 L303.39,398.51 L304.31,398.90 L305.23,399.29 L306.15,399.68 L307.07,400.08 L307.99,400.47 L308.91,400.86 L309.83,401.26 L310.74,401.66 L311.66,402.05 L312.58,402.45 L313.50,402.85 L314.42,403.24 L315.33,403.64 L316.25,404.04 L317.17,404.44 L318.09,404.84 L319.00,405.23 L319.91,405.63 L320.80,406.01 L321.64,406.37 L322.37,406.69 L322.96,406.94 L323.80,422.30 L322.59,421.87 L321.89,421.63 L321.06,421.34 L320.17,421.02 L319.24,420.69 L318.30,420.36 L317.35,420.03 L316.41,419.70 L315.47,419.37 L314.52,419.04 L313.58,418.71 L312.64,418.38 L311.69,418.05 L310.75,417.72 L309.80,417.39 L308.86,417.06 L307.92,416.73 L306.97,416.40 L306.03,416.07 L305.09,415.73 L304.14,415.40 L303.20,415.07 L302.26,414.74 L301.31,414.41 L300.37,414.08 L299.43,413.74 L298.48,413.41 L297.54,413.08 L296.60,412.75 L295.65,412.41 L294.71,412.08 L293.77,411.75 L292.83,411.41 L291.88,411.08 L290.94,410.74 L290.00,410.41 L289.06,410.07 L288.11,409.74 L287.17,409.40 L286.23,409.06 L285.29,408.73 L284.35,408.39 L283.41,408.05 L282.47,407.71 L281.53,407.37 L280.58,407.03 L279.64,406.69 L278.70,406.35 L277.76,406.01 L276.83,405.67 L275.89,405.32 L274.95,404.98 L274.01,404.63 L273.07,404.28 L272.13,403.94 L271.20,403.59 L270.26,403.23 L269.33,402.88 L268.39,402.53 L267.45,402.18 L266.52,401.82 L265.59,401.46 L264.65,401.11 L263.72,400.75 L262.78,400.39 L261.85,400.03 L260.92,399.67 L259.98,399.32 L259.05,398.95 L258.12,398.59 L257.19,398.23 L256.25,397.87 L255.32,397.51 L254.39,397.15 L253.46,396.79 L252.52,396.42 L251.59,396.06 L250.66,395.70 L249.73,395.34 L248.80,394.97 L247.87,394.61 L246.93,394.25 L246.00,393.89 L245.07,393.52 L244.14,393.16 L243.20,392.80 L242.27,392.44 L241.34,392.08 L240.41,391.72 L239.47,391.36 L238.54,391.00 L237.60,390.65 L236.67,390.29 L235.74,389.93 L234.80,389.58 L233.86,389.23 L232.93,388.88 L231.99,388.53 L231.05,388.19 L230.11,387.85 L229.17,387.51 L228.23,387.17 L227.28,386.84 L226.34,386.51 L225.39,386.19 L224.45,385.87 L223.50,385.56 L222.54,385.25 L221.59,384.95 L220.64,384.65 L219.68,384.36 L218.72,384.08 L217.76,383.80 L216.80,383.53 L215.84,383.25 L214.87,382.98 L213.91,382.71 L212.95,382.43 L211.99,382.15 L211.03,381.87 L210.07,381.58 L209.11,381.30 L208.16,381.02 L207.20,380.74 L206.24,380.46 L205.27,380.18 L204.31,379.91 L203.35,379.63 L202.39,379.36 L201.43,379.08 L200.47,378.80 L199.51,378.51 L198.55,378.22 L197.60,377.92 L196.65,377.62 L195.70,377.31 L194.75,376.99 L193.81,376.66 L192.86,376.33 L191.92,375.99 L190.98,375.66 L190.04,375.32 L189.10,374.97 L188.16,374.62 L187.23,374.27 L186.29,373.91 L185.36,373.55 L184.43,373.18 L183.51,372.80 L182.59,372.41 L181.67,372.00 L180.76,371.59 L179.86,371.17 L178.96,370.73 L178.06,370.29 L177.18,369.83 L176.30,369.35 L175.42,368.86 L174.56,368.36 L173.70,367.85 L172.85,367.33 L172.00,366.79 L171.16,366.25 L170.33,365.70 L169.50,365.14 L168.67,364.58 L167.85,364.01 L167.03,363.44 L166.21,362.86 L165.39,362.29 L164.58,361.71 L163.76,361.13 L162.95,360.55 L162.13,359.98 L161.31,359.40 L160.49,358.83 L159.67,358.26 L158.85,357.69 L158.03,357.11 L157.21,356.54 L156.40,355.96 L155.58,355.38 L154.77,354.80 L153.96,354.21 L153.15,353.63 L152.34,353.04 L151.52,352.46 L150.71,351.87 L149.90,351.29 L149.09,350.71 L148.28,350.13 L147.46,349.55 L146.64,348.97 L145.82,348.41 L144.99,347.84 L144.16,347.29 L143.32,346.74 L142.48,346.20 L141.63,345.68 L140.77,345.16 L139.91,344.66 L139.04,344.16 L138.16,343.69 L137.28,343.22 L136.38,342.78 L135.48,342.35 L134.57,341.94 L133.65,341.55 L132.72,341.18 L131.79,340.83 L130.84,340.50 L129.89,340.20 L128.93,339.93 L127.96,339.69 L126.99,339.47 L126.01,339.29 L125.02,339.12 L124.03,338.97 L123.04,338.85 L122.05,338.73 L121.05,338.63 L120.06,338.55 L119.06,338.48 L118.06,338.43 L117.06,338.40 L116.06,338.39 L115.06,338.39 L114.07,338.42 L113.07,338.45 L112.07,338.50 L111.07,338.55 L110.07,338.62 L109.08,338.71 L108.09,338.83 L107.11,339.00 L106.14,339.22 L105.18,339.48 L104.23,339.79 L103.30,340.13 L102.37,340.50 L101.45,340.89 L100.54,341.30 L99.63,341.72 L98.73,342.15 L97.83,342.58 L96.93,343.03 L96.03,343.47 L95.14,343.92 L94.25,344.37 L93.35,344.82 L92.46,345.27 L91.57,345.72 L90.67,346.17 L89.78,346.61 L88.88,347.06 L87.99,347.51 L87.10,347.96 L86.21,348.41 L85.31,348.86 L84.43,349.32 L83.54,349.78 L82.65,350.24 L81.76,350.70 L80.87,351.16 L79.98,351.62 L79.09,352.07 L78.20,352.52 L77.30,352.96 L76.40,353.40 L75.50,353.83 L74.60,354.26 L73.69,354.67 L72.77,355.08 L71.86,355.48 L70.94,355.87 L70.01,356.25 L69.09,356.62 L68.16,357.00 L67.23,357.36 L66.29,357.72 L65.36,358.08 L64.43,358.44 L63.49,358.80 L62.56,359.15 L61.62,359.50 L60.69,359.85 L59.76,360.19 L58.86,360.53 L58.02,360.84 L57.30,361.11 L56.00,361.60 Z" fill="#c9cde8"/>
<path d="M56.00,356.10 L57.31,355.63 L58.03,355.37 L58.88,355.07 L59.78,354.75 L60.71,354.42 L61.65,354.09 L62.59,353.75 L63.53,353.41 L64.47,353.07 L65.41,352.73 L66.35,352.38 L67.29,352.03 L68.23,351.68 L69.16,351.32 L70.09,350.96 L71.02,350.59 L71.95,350.22 L72.87,349.83 L73.79,349.43 L74.70,349.03 L75.61,348.61 L76.52,348.19 L77.42,347.76 L78.32,347.32 L79.21,346.88 L80.11,346.43 L81.00,345.98 L81.89,345.53 L82.79,345.08 L83.68,344.64 L84.58,344.19 L85.48,343.76 L86.38,343.33 L87.29,342.91 L88.20,342.50 L89.11,342.09 L90.03,341.69 L90.95,341.30 L91.87,340.91 L92.80,340.53 L93.72,340.15 L94.65,339.77 L95.58,339.40 L96.50,339.03 L97.44,338.67 L98.37,338.31 L99.31,337.95 L100.24,337.61 L101.18,337.27 L102.13,336.94 L103.08,336.63 L104.03,336.34 L104.99,336.06 L105.96,335.82 L106.93,335.60 L107.92,335.43 L108.90,335.29 L109.90,335.18 L110.89,335.09 L111.89,335.02 L112.89,334.97 L113.88,334.92 L114.88,334.90 L115.88,334.89 L116.88,334.91 L117.88,334.94 L118.88,335.00 L119.87,335.07 L120.87,335.17 L121.86,335.28 L122.85,335.40 L123.84,335.54 L124.83,335.69 L125.82,335.86 L126.80,336.04 L127.78,336.24 L128.75,336.46 L129.73,336.69 L130.69,336.95 L131.66,337.21 L132.62,337.49 L133.57,337.78 L134.53,338.08 L135.47,338.40 L136.41,338.74 L137.35,339.10 L138.27,339.48 L139.19,339.88 L140.10,340.29 L140.99,340.73 L141.89,341.18 L142.77,341.65 L143.64,342.13 L144.51,342.63 L145.37,343.13 L146.23,343.65 L147.08,344.18 L147.93,344.71 L148.77,345.24 L149.61,345.78 L150.45,346.32 L151.30,346.86 L152.14,347.40 L152.98,347.94 L153.83,348.47 L154.67,349.01 L155.52,349.54 L156.37,350.06 L157.23,350.57 L158.09,351.08 L158.96,351.59 L159.82,352.08 L160.69,352.57 L161.57,353.06 L162.44,353.55 L163.32,354.03 L164.20,354.50 L165.08,354.98 L165.96,355.45 L166.84,355.92 L167.73,356.38 L168.62,356.84 L169.51,357.29 L170.40,357.74 L171.30,358.18 L172.20,358.62 L173.10,359.05 L174.01,359.47 L174.92,359.88 L175.83,360.29 L176.75,360.69 L177.67,361.07 L178.60,361.45 L179.53,361.82 L180.46,362.18 L181.39,362.54 L182.33,362.88 L183.27,363.22 L184.22,363.55 L185.16,363.88 L186.11,364.20 L187.06,364.51 L188.01,364.82 L188.96,365.13 L189.91,365.43 L190.87,365.74 L191.82,366.04 L192.77,366.34 L193.73,366.64 L194.68,366.94 L195.64,367.23 L196.59,367.53 L197.55,367.82 L198.51,368.10 L199.47,368.39 L200.43,368.67 L201.39,368.95 L202.35,369.22 L203.31,369.49 L204.28,369.75 L205.24,370.01 L206.21,370.26 L207.18,370.51 L208.15,370.75 L209.12,370.99 L210.09,371.23 L211.07,371.46 L212.04,371.69 L213.01,371.91 L213.99,372.13 L214.96,372.36 L215.94,372.57 L216.92,372.78 L217.90,372.99 L218.88,373.18 L219.86,373.37 L220.84,373.55 L221.83,373.73 L222.81,373.90 L223.80,374.06 L224.79,374.22 L225.77,374.37 L226.76,374.52 L227.75,374.67 L228.74,374.81 L229.73,374.96 L230.72,375.10 L231.71,375.23 L232.70,375.37 L233.69,375.50 L234.69,375.63 L235.68,375.76 L236.67,375.88 L237.66,376.01 L238.65,376.13 L239.65,376.25 L240.64,376.38 L241.63,376.50 L242.62,376.62 L243.62,376.74 L244.61,376.86 L245.60,376.97 L246.60,377.09 L247.59,377.21 L248.58,377.33 L249.57,377.45 L250.57,377.56 L251.56,377.68 L252.55,377.80 L253.55,377.91 L254.54,378.03 L255.53,378.15 L256.53,378.26 L257.52,378.38 L258.51,378.50 L259.51,378.62 L260.50,378.73 L261.49,378.85 L262.49,378.97 L263.48,379.09 L264.47,379.21 L265.46,379.33 L266.46,379.45 L267.45,379.57 L268.44,379.69 L269.43,379.81 L270.43,379.93 L271.42,380.06 L272.41,380.18 L273.40,380.31 L274.40,380.43 L275.39,380.56 L276.38,380.69 L277.37,380.81 L278.36,380.94 L279.35,381.07 L280.35,381.20 L281.34,381.33 L282.33,381.46 L283.32,381.59 L284.31,381.72 L285.30,381.85 L286.30,381.98 L287.29,382.11 L288.28,382.24 L289.27,382.37 L290.26,382.50 L291.25,382.64 L292.24,382.77 L293.23,382.90 L294.23,383.03 L295.22,383.16 L296.21,383.30 L297.20,383.43 L298.19,383.56 L299.18,383.69 L300.17,383.83 L301.16,383.96 L302.16,384.09 L303.15,384.23 L304.14,384.36 L305.13,384.49 L306.12,384.63 L307.11,384.76 L308.10,384.89 L309.09,385.03 L310.08,385.16 L311.07,385.29 L312.07,385.43 L313.06,385.56 L314.05,385.69 L315.04,385.83 L316.03,385.96 L317.02,386.10 L318.01,386.23 L319.00,386.36 L319.98,386.49 L320.92,386.62 L321.79,386.74 L322.53,386.84 L323.80,387.01 L323.02,400.34 L322.43,400.22 L321.67,400.07 L320.79,399.90 L319.85,399.71 L318.88,399.52 L317.90,399.33 L316.92,399.13 L315.94,398.94 L314.96,398.74 L313.98,398.55 L313.00,398.35 L312.02,398.16 L311.04,397.96 L310.06,397.77 L309.08,397.57 L308.10,397.38 L307.12,397.18 L306.13,396.99 L305.15,396.79 L304.17,396.60 L303.19,396.40 L302.21,396.21 L301.23,396.02 L300.25,395.82 L299.27,395.63 L298.29,395.43 L297.31,395.24 L296.32,395.05 L295.34,394.85 L294.36,394.66 L293.38,394.47 L292.40,394.27 L291.42,394.08 L290.44,393.89 L289.46,393.69 L288.48,393.50 L287.49,393.31 L286.51,393.12 L285.53,392.92 L284.55,392.73 L283.57,392.54 L282.59,392.35 L281.61,392.16 L280.62,391.97 L279.64,391.78 L278.66,391.59 L277.68,391.40 L276.70,391.21 L275.71,391.02 L274.73,390.83 L273.75,390.64 L272.77,390.46 L271.79,390.27 L270.80,390.08 L269.82,389.90 L268.84,389.72 L267.85,389.53 L266.87,389.35 L265.89,389.17 L264.90,388.99 L263.92,388.80 L262.94,388.62 L261.95,388.44 L260.97,388.26 L259.99,388.08 L259.00,387.90 L258.02,387.72 L257.04,387.54 L256.05,387.37 L255.07,387.19 L254.08,387.01 L253.10,386.83 L252.12,386.65 L251.13,386.47 L250.15,386.29 L249.16,386.11 L248.18,385.93 L247.20,385.75 L246.21,385.57 L245.23,385.39 L244.25,385.21 L243.26,385.03 L242.28,384.85 L241.30,384.67 L240.31,384.49 L239.33,384.30 L238.35,384.12 L237.36,383.93 L236.38,383.75 L235.40,383.56 L234.42,383.37 L233.44,383.18 L232.45,382.99 L231.47,382.79 L230.49,382.59 L229.51,382.39 L228.53,382.19 L227.56,381.99 L226.58,381.78 L225.60,381.57 L224.62,381.35 L223.65,381.13 L222.67,380.90 L221.70,380.67 L220.73,380.44 L219.76,380.20 L218.79,379.95 L217.82,379.69 L216.86,379.44 L215.89,379.18 L214.93,378.92 L213.96,378.65 L213.00,378.39 L212.03,378.13 L211.06,377.87 L210.10,377.62 L209.13,377.36 L208.16,377.11 L207.20,376.85 L206.23,376.60 L205.26,376.34 L204.30,376.08 L203.33,375.82 L202.37,375.56 L201.40,375.29 L200.44,375.02 L199.48,374.75 L198.52,374.47 L197.56,374.19 L196.60,373.91 L195.64,373.62 L194.68,373.33 L193.73,373.04 L192.77,372.74 L191.82,372.44 L190.87,372.14 L189.91,371.83 L188.96,371.53 L188.01,371.22 L187.06,370.91 L186.11,370.60 L185.16,370.28 L184.22,369.95 L183.27,369.62 L182.33,369.28 L181.39,368.94 L180.46,368.58 L179.53,368.22 L178.60,367.85 L177.67,367.47 L176.75,367.09 L175.83,366.69 L174.92,366.28 L174.01,365.87 L173.10,365.45 L172.20,365.02 L171.30,364.58 L170.40,364.14 L169.51,363.69 L168.62,363.24 L167.73,362.78 L166.84,362.32 L165.96,361.85 L165.08,361.38 L164.20,360.90 L163.32,360.43 L162.44,359.95 L161.57,359.46 L160.69,358.97 L159.82,358.48 L158.96,357.99 L158.09,357.48 L157.23,356.97 L156.37,356.46 L155.52,355.94 L154.67,355.41 L153.83,354.87 L152.98,354.34 L152.14,353.80 L151.30,353.26 L150.45,352.72 L149.61,352.18 L148.77,351.64 L147.93,351.11 L147.08,350.58 L146.23,350.05 L145.37,349.53 L144.51,349.03 L143.64,348.53 L142.77,348.05 L141.89,347.58 L140.99,347.13 L140.10,346.69 L139.19,346.28 L138.27,345.88 L137.35,345.50 L136.41,345.14 L135.47,344.80 L134.53,344.48 L133.57,344.18 L132.62,343.89 L131.66,343.61 L130.69,343.35 L129.73,343.09 L128.75,342.86 L127.78,342.64 L126.80,342.44 L125.82,342.26 L124.83,342.09 L123.84,341.94 L122.85,341.80 L121.86,341.68 L120.87,341.57 L119.87,341.47 L118.88,341.40 L117.88,341.34 L116.88,341.31 L115.88,341.29 L114.88,341.30 L113.88,341.32 L112.89,341.37 L111.89,341.42 L110.89,341.49 L109.90,341.58 L108.90,341.69 L107.92,341.83 L106.93,342.00 L105.96,342.22 L104.99,342.46 L104.03,342.74 L103.08,343.03 L102.13,343.34 L101.18,343.67 L100.24,344.01 L99.31,344.35 L98.37,344.71 L97.44,345.07 L96.50,345.43 L95.58,345.80 L94.65,346.17 L93.72,346.55 L92.80,346.93 L91.87,347.31 L90.95,347.70 L90.03,348.09 L89.11,348.49 L88.20,348.90 L87.29,349.31 L86.38,349.73 L85.48,350.16 L84.58,350.59 L83.68,351.04 L82.79,351.48 L81.89,351.93 L81.00,352.38 L80.11,352.83 L79.21,353.28 L78.32,353.72 L77.42,354.16 L76.52,354.59 L75.61,355.01 L74.70,355.43 L73.79,355.83 L72.87,356.23 L71.95,356.62 L71.02,356.99 L70.09,357.36 L69.16,357.72 L68.23,358.08 L67.29,358.43 L66.35,358.78 L65.41,359.13 L64.47,359.47 L63.53,359.81 L62.59,360.15 L61.65,360.49 L60.71,360.82 L59.78,361.15 L58.88,361.47 L58.03,361.77 L57.31,362.03 L56.00,362.50 Z" fill="rgb(118,118,122)" fill-opacity="0.55"/>
<path d="M56.00,359.30 L57.31,358.83 L58.03,358.57 L58.88,358.27 L59.78,357.95 L60.71,357.62 L61.65,357.29 L62.59,356.95 L63.53,356.61 L64.47,356.27 L65.41,355.93 L66.35,355.58 L67.29,355.23 L68.23,354.88 L69.16,354.52 L70.09,354.16 L71.02,353.79 L71.95,353.42 L72.87,353.03 L73.79,352.63 L74.70,352.23 L75.61,351.81 L76.52,351.39 L77.42,350.96 L78.32,350.52 L79.21,350.08 L80.11,349.63 L81.00,349.18 L81.89,348.73 L82.79,348.28 L83.68,347.84 L84.58,347.39 L85.48,346.96 L86.38,346.53 L87.29,346.11 L88.20,345.70 L89.11,345.29 L90.03,344.89 L90.95,344.50 L91.87,344.11 L92.80,343.73 L93.72,343.35 L94.65,342.97 L95.58,342.60 L96.50,342.23 L97.44,341.87 L98.37,341.51 L99.31,341.15 L100.24,340.81 L101.18,340.47 L102.13,340.14 L103.08,339.83 L104.03,339.54 L104.99,339.26 L105.96,339.02 L106.93,338.80 L107.92,338.63 L108.90,338.49 L109.90,338.38 L110.89,338.29 L111.89,338.22 L112.89,338.17 L113.88,338.12 L114.88,338.10 L115.88,338.09 L116.88,338.11 L117.88,338.14 L118.88,338.20 L119.87,338.27 L120.87,338.37 L121.86,338.48 L122.85,338.60 L123.84,338.74 L124.83,338.89 L125.82,339.06 L126.80,339.24 L127.78,339.44 L128.75,339.66 L129.73,339.89 L130.69,340.15 L131.66,340.41 L132.62,340.69 L133.57,340.98 L134.53,341.28 L135.47,341.60 L136.41,341.94 L137.35,342.30 L138.27,342.68 L139.19,343.08 L140.10,343.49 L140.99,343.93 L141.89,344.38 L142.77,344.85 L143.64,345.33 L144.51,345.83 L145.37,346.33 L146.23,346.85 L147.08,347.38 L147.93,347.91 L148.77,348.44 L149.61,348.98 L150.45,349.52 L151.30,350.06 L152.14,350.60 L152.98,351.14 L153.83,351.67 L154.67,352.21 L155.52,352.74 L156.37,353.26 L157.23,353.77 L158.09,354.28 L158.96,354.79 L159.82,355.28 L160.69,355.77 L161.57,356.26 L162.44,356.75 L163.32,357.23 L164.20,357.70 L165.08,358.18 L165.96,358.65 L166.84,359.12 L167.73,359.58 L168.62,360.04 L169.51,360.49 L170.40,360.94 L171.30,361.38 L172.20,361.82 L173.10,362.25 L174.01,362.67 L174.92,363.08 L175.83,363.49 L176.75,363.89 L177.67,364.27 L178.60,364.65 L179.53,365.02 L180.46,365.38 L181.39,365.74 L182.33,366.08 L183.27,366.42 L184.22,366.75 L185.16,367.08 L186.11,367.40 L187.06,367.71 L188.01,368.02 L188.96,368.33 L189.91,368.63 L190.87,368.94 L191.82,369.24 L192.77,369.54 L193.73,369.83 L194.69,370.13 L195.64,370.42 L196.60,370.71 L197.56,370.99 L198.52,371.27 L199.48,371.54 L200.44,371.81 L201.41,372.08 L202.37,372.35 L203.34,372.61 L204.30,372.87 L205.27,373.13 L206.23,373.39 L207.20,373.64 L208.17,373.90 L209.13,374.16 L210.10,374.42 L211.06,374.68 L212.03,374.95 L212.99,375.23 L213.95,375.51 L214.90,375.79 L215.86,376.08 L216.82,376.37 L217.78,376.65 L218.74,376.93 L219.70,377.20 L220.67,377.46 L221.64,377.71 L222.61,377.95 L223.58,378.18 L224.56,378.40 L225.53,378.61 L226.51,378.81 L227.49,379.01 L228.47,379.20 L229.46,379.39 L230.44,379.57 L231.42,379.75 L232.41,379.92 L233.39,380.08 L234.38,380.25 L235.37,380.41 L236.35,380.57 L237.34,380.73 L238.33,380.88 L239.32,381.03 L240.31,381.18 L241.30,381.33 L242.28,381.48 L243.27,381.63 L244.26,381.78 L245.25,381.92 L246.24,382.07 L247.23,382.22 L248.22,382.36 L249.21,382.50 L250.20,382.65 L251.19,382.79 L252.18,382.93 L253.17,383.08 L254.16,383.22 L255.15,383.36 L256.14,383.50 L257.13,383.65 L258.12,383.79 L259.11,383.93 L260.10,384.07 L261.09,384.22 L262.08,384.36 L263.07,384.51 L264.06,384.65 L265.04,384.80 L266.03,384.94 L267.02,385.09 L268.01,385.24 L269.00,385.38 L269.99,385.53 L270.98,385.68 L271.97,385.83 L272.96,385.98 L273.94,386.14 L274.93,386.29 L275.92,386.45 L276.91,386.60 L277.90,386.76 L278.88,386.91 L279.87,387.07 L280.86,387.23 L281.85,387.38 L282.83,387.54 L283.82,387.70 L284.81,387.86 L285.80,388.02 L286.78,388.18 L287.77,388.33 L288.76,388.49 L289.75,388.65 L290.73,388.81 L291.72,388.97 L292.71,389.13 L293.69,389.29 L294.68,389.45 L295.67,389.61 L296.66,389.77 L297.64,389.93 L298.63,390.09 L299.62,390.25 L300.60,390.41 L301.59,390.57 L302.58,390.73 L303.56,390.90 L304.55,391.06 L305.54,391.22 L306.53,391.38 L307.51,391.54 L308.50,391.70 L309.49,391.86 L310.47,392.02 L311.46,392.19 L312.45,392.35 L313.43,392.51 L314.42,392.67 L315.41,392.83 L316.39,392.99 L317.38,393.15 L318.37,393.31 L319.35,393.47 L320.31,393.63 L321.23,393.78 L322.06,393.92 L322.75,394.03 L323.80,394.20 L323.80,394.20" fill="none" stroke="#4a4a4c" stroke-width="1.3"/>
<path d="M56.00,357.00 L57.32,356.56 L58.05,356.31 L58.90,356.03 L59.81,355.73 L60.75,355.42 L61.69,355.11 L62.64,354.79 L63.59,354.47 L64.54,354.15 L65.48,353.82 L66.43,353.49 L67.37,353.16 L68.31,352.82 L69.25,352.47 L70.18,352.11 L71.11,351.75 L72.04,351.37 L72.96,350.99 L73.87,350.59 L74.78,350.17 L75.69,349.75 L76.59,349.31 L77.48,348.87 L78.38,348.41 L79.26,347.95 L80.15,347.49 L81.03,347.02 L81.91,346.54 L82.79,346.07 L83.67,345.60 L84.55,345.12 L85.44,344.65 L86.32,344.19 L87.21,343.72 L88.10,343.27 L88.99,342.81 L89.88,342.36 L90.77,341.91 L91.67,341.46 L92.56,341.01 L93.45,340.56 L94.35,340.12 L95.24,339.67 L96.14,339.23 L97.04,338.78 L97.93,338.34 L98.83,337.91 L99.73,337.47 L100.64,337.04 L101.54,336.62 L102.45,336.21 L103.37,335.80 L104.29,335.41 L105.21,335.03 L106.14,334.67 L107.08,334.33 L108.03,334.02 L108.99,333.73 L109.95,333.48 L110.92,333.25 L111.90,333.05 L112.88,332.87 L113.87,332.71 L114.86,332.58 L115.85,332.47 L116.85,332.40 L117.84,332.37 L118.84,332.38 L119.84,332.42 L120.83,332.51 L121.82,332.63 L122.81,332.78 L123.79,332.96 L124.76,333.17 L125.74,333.40 L126.70,333.65 L127.66,333.93 L128.62,334.22 L129.57,334.53 L130.51,334.86 L131.45,335.21 L132.38,335.57 L133.31,335.95 L134.22,336.34 L135.14,336.75 L136.04,337.18 L136.94,337.62 L137.83,338.08 L138.71,338.54 L139.59,339.02 L140.46,339.51 L141.33,340.01 L142.19,340.52 L143.05,341.03 L143.90,341.55 L144.75,342.08 L145.59,342.62 L146.43,343.16 L147.27,343.71 L148.10,344.26 L148.94,344.81 L149.77,345.37 L150.60,345.92 L151.43,346.48 L152.26,347.04 L153.09,347.59 L153.92,348.15 L154.75,348.71 L155.58,349.26 L156.42,349.81 L157.25,350.36 L158.09,350.91 L158.93,351.46 L159.76,352.00 L160.60,352.55 L161.44,353.10 L162.27,353.65 L163.11,354.20 L163.94,354.75 L164.78,355.30 L165.61,355.85 L166.45,356.40 L167.28,356.95 L168.12,357.50 L168.96,358.04 L169.81,358.57 L170.65,359.10 L171.50,359.63 L172.36,360.15 L173.22,360.66 L174.09,361.15 L174.96,361.64 L175.84,362.12 L176.72,362.58 L177.61,363.04 L178.51,363.48 L179.41,363.91 L180.32,364.33 L181.23,364.74 L182.15,365.14 L183.07,365.53 L183.99,365.92 L184.92,366.29 L185.85,366.66 L186.78,367.02 L187.71,367.37 L188.65,367.72 L189.59,368.07 L190.53,368.41 L191.47,368.74 L192.42,369.08 L193.36,369.40 L194.31,369.72 L195.26,370.04 L196.21,370.34 L197.17,370.63 L198.12,370.92 L199.08,371.20 L200.05,371.47 L201.01,371.74 L201.97,372.00 L202.94,372.26 L203.90,372.53 L204.87,372.79 L205.83,373.06 L206.80,373.32 L207.76,373.60 L208.72,373.88 L209.68,374.17 L210.63,374.46 L211.59,374.75 L212.54,375.05 L213.50,375.34 L214.45,375.64 L215.41,375.94 L216.36,376.25 L217.31,376.55 L218.26,376.86 L219.21,377.17 L220.16,377.49 L221.11,377.81 L222.05,378.14 L223.00,378.47 L223.94,378.80 L224.88,379.14 L225.82,379.47 L226.76,379.81 L227.70,380.16 L228.64,380.50 L229.58,380.85 L230.52,381.20 L231.45,381.55 L232.39,381.90 L233.32,382.26 L234.26,382.61 L235.19,382.97 L236.12,383.33 L237.06,383.69 L237.99,384.06 L238.92,384.42 L239.85,384.78 L240.78,385.15 L241.71,385.51 L242.64,385.88 L243.57,386.24 L244.51,386.61 L245.44,386.97 L246.37,387.34 L247.30,387.71 L248.23,388.07 L249.16,388.44 L250.09,388.80 L251.02,389.17 L251.95,389.53 L252.88,389.90 L253.81,390.26 L254.74,390.63 L255.68,390.99 L256.61,391.35 L257.54,391.72 L258.47,392.08 L259.41,392.44 L260.34,392.80 L261.27,393.16 L262.20,393.52 L263.14,393.88 L264.07,394.23 L265.01,394.59 L265.94,394.94 L266.88,395.30 L267.81,395.65 L268.75,396.00 L269.69,396.35 L270.62,396.70 L271.56,397.04 L272.50,397.39 L273.44,397.73 L274.38,398.07 L275.32,398.41 L276.26,398.75 L277.20,399.09 L278.15,399.42 L279.09,399.75 L280.03,400.08 L280.98,400.42 L281.92,400.74 L282.87,401.07 L283.81,401.40 L284.76,401.73 L285.70,402.05 L286.65,402.38 L287.59,402.70 L288.54,403.02 L289.49,403.35 L290.43,403.67 L291.38,403.99 L292.33,404.31 L293.27,404.63 L294.22,404.95 L295.17,405.27 L296.12,405.59 L297.06,405.91 L298.01,406.23 L298.96,406.54 L299.91,406.86 L300.86,407.18 L301.81,407.49 L302.75,407.81 L303.70,408.13 L304.65,408.44 L305.60,408.76 L306.55,409.07 L307.50,409.39 L308.45,409.70 L309.40,410.02 L310.35,410.33 L311.30,410.65 L312.25,410.96 L313.19,411.28 L314.14,411.59 L315.09,411.90 L316.04,412.22 L316.99,412.53 L317.94,412.85 L318.89,413.16 L319.83,413.47 L320.75,413.78 L321.61,414.07 L322.36,414.32 L322.96,414.52 L323.80,414.80" fill="none" stroke="#3a5fb3" stroke-width="1.4"/>
<line x1="395.7" y1="50.7" x2="395.7" y2="205.8" stroke="#333" stroke-width="1.4"/>
<line x1="389.5" y1="205.8" x2="497" y2="205.8" stroke="#333" stroke-width="1.4"/>
<line x1="389.2" y1="50.7" x2="395.7" y2="50.7" stroke="#333" stroke-width="1.2"/>
<line x1="389.2" y1="102.2" x2="395.7" y2="102.2" stroke="#333" stroke-width="1.2"/>
<line x1="389.2" y1="153.7" x2="395.7" y2="153.7" stroke="#333" stroke-width="1.2"/>
<line x1="389.2" y1="205.8" x2="395.7" y2="205.8" stroke="#333" stroke-width="1.2"/>
<text x="387.3" y="54.9" font-size="13.4" text-anchor="end" fill="#231f20" font-weight="normal" font-style="normal" stroke="#231f20" stroke-width="0.3">15</text>
<text x="387.3" y="107" font-size="13.4" text-anchor="end" fill="#231f20" font-weight="normal" font-style="normal" stroke="#231f20" stroke-width="0.3">10</text>
<text x="387.3" y="158.5" font-size="13.4" text-anchor="end" fill="#231f20" font-weight="normal" font-style="normal" stroke="#231f20" stroke-width="0.3">5</text>
<text x="387.3" y="207.1" font-size="13.4" text-anchor="end" fill="#231f20" font-weight="normal" font-style="normal" stroke="#231f20" stroke-width="0.3">0</text>
<text x="372.7" y="125.3" font-size="13" text-anchor="middle" fill="#231f20" font-weight="normal" font-style="normal" stroke="#231f20" stroke-width="0.3" transform="rotate(-90 372.7 125.3)">velocity (cm/s)</text>
<line x1="419.1" y1="205.8" x2="419.1" y2="216.6" stroke="#333" stroke-width="1.2"/>
<text x="408.6" y="217.3" font-size="12" text-anchor="middle" fill="#231f20" font-weight="normal" font-style="normal" stroke="#231f20" stroke-width="0.3">-</text>
<text x="429.4" y="217" font-size="11" text-anchor="middle" fill="#231f20" font-weight="normal" font-style="normal" stroke="#231f20" stroke-width="0.3">+</text>
<line x1="473" y1="205.8" x2="473" y2="216.6" stroke="#333" stroke-width="1.2"/>
<text x="462.5" y="217.3" font-size="12" text-anchor="middle" fill="#231f20" font-weight="normal" font-style="normal" stroke="#231f20" stroke-width="0.3">-</text>
<text x="483.3" y="217" font-size="11" text-anchor="middle" fill="#231f20" font-weight="normal" font-style="normal" stroke="#231f20" stroke-width="0.3">+</text>
<text x="372.6" y="218.4" font-size="12.3" text-anchor="start" fill="#231f20" stroke="#231f20" stroke-width="0.3" textLength="25.2" lengthAdjust="spacingAndGlyphs">light:</text>
<text x="418.4" y="228.7" font-size="14" text-anchor="middle" fill="#231f20" stroke="#231f20" stroke-width="0.3" textLength="40.6" lengthAdjust="spacingAndGlyphs">control</text>
<text x="473.5" y="228.7" font-size="14" text-anchor="middle" fill="#231f20" stroke="#231f20" stroke-width="0.3" textLength="44.6" lengthAdjust="spacingAndGlyphs">hChR2</text>
<line x1="408.5" y1="56.4" x2="429.9" y2="56.4" stroke="#231f20" stroke-width="1.5"/>
<text x="419.2" y="51.9" font-size="13" text-anchor="middle" fill="#231f20" font-weight="normal" font-style="normal" stroke="#231f20" stroke-width="0.3">ns</text>
<line x1="462.5" y1="56.4" x2="483.9" y2="56.4" stroke="#231f20" stroke-width="1.5"/>
<text x="473.2" y="51.9" font-size="13" text-anchor="middle" fill="#231f20" font-weight="normal" font-style="normal" stroke="#231f20" stroke-width="0.3">ns</text>
<line x1="409.2" y1="101.6" x2="429.3" y2="112.8" stroke="#5a5e62" stroke-width="1.3"/>
<line x1="409.2" y1="127.7" x2="429.3" y2="130.7" stroke="#5a5e62" stroke-width="1.3"/>
<line x1="409.2" y1="132.9" x2="429.3" y2="135.3" stroke="#5a5e62" stroke-width="1.3"/>
<line x1="409.2" y1="132.9" x2="429.3" y2="154.3" stroke="#5a5e62" stroke-width="1.3"/>
<line x1="409.2" y1="149.2" x2="429.3" y2="140.6" stroke="#5a5e62" stroke-width="1.3"/>
<line x1="409.2" y1="156.5" x2="429.3" y2="149.2" stroke="#5a5e62" stroke-width="1.3"/>
<circle cx="409.2" cy="101.6" r="2.65" fill="#5a5e62"/>
<circle cx="429.3" cy="112.8" r="2.65" fill="#5a5e62"/>
<circle cx="409.2" cy="127.7" r="2.65" fill="#5a5e62"/>
<circle cx="429.3" cy="130.7" r="2.65" fill="#5a5e62"/>
<circle cx="409.2" cy="132.9" r="2.65" fill="#5a5e62"/>
<circle cx="429.3" cy="135.3" r="2.65" fill="#5a5e62"/>
<circle cx="409.2" cy="132.9" r="2.65" fill="#5a5e62"/>
<circle cx="429.3" cy="154.3" r="2.65" fill="#5a5e62"/>
<circle cx="409.2" cy="149.2" r="2.65" fill="#5a5e62"/>
<circle cx="429.3" cy="140.6" r="2.65" fill="#5a5e62"/>
<circle cx="409.2" cy="156.5" r="2.65" fill="#5a5e62"/>
<circle cx="429.3" cy="149.2" r="2.65" fill="#5a5e62"/>
<line x1="463.1" y1="105.9" x2="483.2" y2="124" stroke="#3a5fb3" stroke-width="1.3"/>
<line x1="463.1" y1="125.9" x2="483.2" y2="128.5" stroke="#3a5fb3" stroke-width="1.3"/>
<line x1="463.1" y1="129.7" x2="483.2" y2="152.9" stroke="#3a5fb3" stroke-width="1.3"/>
<line x1="463.1" y1="153.1" x2="483.2" y2="175.8" stroke="#3a5fb3" stroke-width="1.3"/>
<line x1="463.1" y1="160.6" x2="483.2" y2="163.8" stroke="#3a5fb3" stroke-width="1.3"/>
<line x1="463.1" y1="169.8" x2="483.2" y2="168.7" stroke="#3a5fb3" stroke-width="1.3"/>
<circle cx="463.1" cy="105.9" r="2.65" fill="#3a5fb3"/>
<circle cx="483.2" cy="124" r="2.65" fill="#3a5fb3"/>
<circle cx="463.1" cy="125.9" r="2.65" fill="#3a5fb3"/>
<circle cx="483.2" cy="128.5" r="2.65" fill="#3a5fb3"/>
<circle cx="463.1" cy="129.7" r="2.65" fill="#3a5fb3"/>
<circle cx="483.2" cy="152.9" r="2.65" fill="#3a5fb3"/>
<circle cx="463.1" cy="153.1" r="2.65" fill="#3a5fb3"/>
<circle cx="483.2" cy="175.8" r="2.65" fill="#3a5fb3"/>
<circle cx="463.1" cy="160.6" r="2.65" fill="#3a5fb3"/>
<circle cx="483.2" cy="163.8" r="2.65" fill="#3a5fb3"/>
<circle cx="463.1" cy="169.8" r="2.65" fill="#3a5fb3"/>
<circle cx="483.2" cy="168.7" r="2.65" fill="#3a5fb3"/>
<line x1="583.5" y1="49.7" x2="583.5" y2="205.8" stroke="#333" stroke-width="1.4"/>
<line x1="577" y1="205.8" x2="685" y2="205.8" stroke="#333" stroke-width="1.4"/>
<line x1="577" y1="49.7" x2="583.5" y2="49.7" stroke="#333" stroke-width="1.2"/>
<line x1="577" y1="88.7" x2="583.5" y2="88.7" stroke="#333" stroke-width="1.2"/>
<line x1="577" y1="127.7" x2="583.5" y2="127.7" stroke="#333" stroke-width="1.2"/>
<line x1="577" y1="166.7" x2="583.5" y2="166.7" stroke="#333" stroke-width="1.2"/>
<line x1="577" y1="205.8" x2="583.5" y2="205.8" stroke="#333" stroke-width="1.2"/>
<text x="574.5" y="54.55" font-size="13.4" text-anchor="end" fill="#231f20" font-weight="normal" font-style="normal" stroke="#231f20" stroke-width="0.3">2</text>
<text x="574.5" y="132.5" font-size="13.4" text-anchor="end" fill="#231f20" font-weight="normal" font-style="normal" stroke="#231f20" stroke-width="0.3">1</text>
<text x="574.5" y="207.1" font-size="13.4" text-anchor="end" fill="#231f20" font-weight="normal" font-style="normal" stroke="#231f20" stroke-width="0.3">0</text>
<text x="559.6" y="122.5" font-size="13" text-anchor="middle" fill="#231f20" font-weight="normal" font-style="normal" stroke="#231f20" stroke-width="0.3" transform="rotate(-90 559.6 122.5)">distance (cm)</text>
<line x1="606.7" y1="205.8" x2="606.7" y2="216.6" stroke="#333" stroke-width="1.2"/>
<text x="596.2" y="217.3" font-size="12" text-anchor="middle" fill="#231f20" font-weight="normal" font-style="normal" stroke="#231f20" stroke-width="0.3">-</text>
<text x="617" y="217" font-size="11" text-anchor="middle" fill="#231f20" font-weight="normal" font-style="normal" stroke="#231f20" stroke-width="0.3">+</text>
<line x1="660.7" y1="205.8" x2="660.7" y2="216.6" stroke="#333" stroke-width="1.2"/>
<text x="650.2" y="217.3" font-size="12" text-anchor="middle" fill="#231f20" font-weight="normal" font-style="normal" stroke="#231f20" stroke-width="0.3">-</text>
<text x="671" y="217" font-size="11" text-anchor="middle" fill="#231f20" font-weight="normal" font-style="normal" stroke="#231f20" stroke-width="0.3">+</text>
<text x="560.4" y="218.4" font-size="12.3" text-anchor="start" fill="#231f20" stroke="#231f20" stroke-width="0.3" textLength="25.2" lengthAdjust="spacingAndGlyphs">light:</text>
<text x="606.65" y="228.7" font-size="14" text-anchor="middle" fill="#231f20" stroke="#231f20" stroke-width="0.3" textLength="40.6" lengthAdjust="spacingAndGlyphs">control</text>
<text x="661.2" y="228.7" font-size="14" text-anchor="middle" fill="#231f20" stroke="#231f20" stroke-width="0.3" textLength="44.6" lengthAdjust="spacingAndGlyphs">hChR2</text>
<line x1="596" y1="55.7" x2="617.4" y2="55.7" stroke="#231f20" stroke-width="1.5"/>
<text x="606.7" y="51.2" font-size="13" text-anchor="middle" fill="#231f20" font-weight="normal" font-style="normal" stroke="#231f20" stroke-width="0.3">ns</text>
<line x1="649.9" y1="55.7" x2="671.3" y2="55.7" stroke="#231f20" stroke-width="1.5"/>
<text x="660.6" y="56.3" font-size="16" text-anchor="middle" fill="#231f20" font-weight="normal" font-style="normal" stroke="#231f20" stroke-width="0.3">*</text>
<line x1="596.8" y1="70.8" x2="616.9" y2="94.8" stroke="#5a5e62" stroke-width="1.3"/>
<line x1="596.8" y1="125.3" x2="616.9" y2="133.9" stroke="#5a5e62" stroke-width="1.3"/>
<line x1="596.8" y1="131.7" x2="616.9" y2="143.3" stroke="#5a5e62" stroke-width="1.3"/>
<line x1="596.8" y1="134.3" x2="616.9" y2="171.2" stroke="#5a5e62" stroke-width="1.3"/>
<line x1="596.8" y1="154.9" x2="616.9" y2="146.5" stroke="#5a5e62" stroke-width="1.3"/>
<line x1="596.8" y1="170.3" x2="616.9" y2="163.2" stroke="#5a5e62" stroke-width="1.3"/>
<circle cx="596.8" cy="70.8" r="2.65" fill="#5a5e62"/>
<circle cx="616.9" cy="94.8" r="2.65" fill="#5a5e62"/>
<circle cx="596.8" cy="125.3" r="2.65" fill="#5a5e62"/>
<circle cx="616.9" cy="133.9" r="2.65" fill="#5a5e62"/>
<circle cx="596.8" cy="131.7" r="2.65" fill="#5a5e62"/>
<circle cx="616.9" cy="143.3" r="2.65" fill="#5a5e62"/>
<circle cx="596.8" cy="134.3" r="2.65" fill="#5a5e62"/>
<circle cx="616.9" cy="171.2" r="2.65" fill="#5a5e62"/>
<circle cx="596.8" cy="154.9" r="2.65" fill="#5a5e62"/>
<circle cx="616.9" cy="146.5" r="2.65" fill="#5a5e62"/>
<circle cx="596.8" cy="170.3" r="2.65" fill="#5a5e62"/>
<circle cx="616.9" cy="163.2" r="2.65" fill="#5a5e62"/>
<line x1="650.8" y1="75.2" x2="670.9" y2="146" stroke="#3a5fb3" stroke-width="1.3"/>
<line x1="650.8" y1="125.7" x2="670.9" y2="127.1" stroke="#3a5fb3" stroke-width="1.3"/>
<line x1="650.8" y1="125.7" x2="670.9" y2="178.9" stroke="#3a5fb3" stroke-width="1.3"/>
<line x1="650.8" y1="175.9" x2="670.9" y2="188.9" stroke="#3a5fb3" stroke-width="1.3"/>
<line x1="650.8" y1="178.9" x2="670.9" y2="203.5" stroke="#3a5fb3" stroke-width="1.3"/>
<line x1="650.8" y1="201.9" x2="670.9" y2="203.5" stroke="#3a5fb3" stroke-width="1.3"/>
<circle cx="650.8" cy="75.2" r="2.65" fill="#3a5fb3"/>
<circle cx="670.9" cy="146" r="2.65" fill="#3a5fb3"/>
<circle cx="650.8" cy="125.7" r="2.65" fill="#3a5fb3"/>
<circle cx="670.9" cy="127.1" r="2.65" fill="#3a5fb3"/>
<circle cx="650.8" cy="125.7" r="2.65" fill="#3a5fb3"/>
<circle cx="670.9" cy="178.9" r="2.65" fill="#3a5fb3"/>
<circle cx="650.8" cy="175.9" r="2.65" fill="#3a5fb3"/>
<circle cx="670.9" cy="188.9" r="2.65" fill="#3a5fb3"/>
<circle cx="650.8" cy="178.9" r="2.65" fill="#3a5fb3"/>
<circle cx="670.9" cy="203.5" r="2.65" fill="#3a5fb3"/>
<circle cx="650.8" cy="201.9" r="2.65" fill="#3a5fb3"/>
<circle cx="670.9" cy="203.5" r="2.65" fill="#3a5fb3"/>
<line x1="397" y1="283.7" x2="397" y2="436" stroke="#333" stroke-width="1.4"/>
<line x1="397" y1="436" x2="500.5" y2="436" stroke="#333" stroke-width="1.4"/>
<line x1="390.5" y1="283.7" x2="397" y2="283.7" stroke="#333" stroke-width="1.2"/>
<line x1="390.5" y1="314.05" x2="397" y2="314.05" stroke="#333" stroke-width="1.2"/>
<line x1="390.5" y1="344.4" x2="397" y2="344.4" stroke="#333" stroke-width="1.2"/>
<line x1="390.5" y1="374.75" x2="397" y2="374.75" stroke="#333" stroke-width="1.2"/>
<line x1="390.5" y1="405.1" x2="397" y2="405.1" stroke="#333" stroke-width="1.2"/>
<text x="386.5" y="288.5" font-size="13.4" text-anchor="end" fill="#231f20" font-weight="normal" font-style="normal" stroke="#231f20" stroke-width="0.3">9</text>
<text x="386.5" y="349.2" font-size="13.4" text-anchor="end" fill="#231f20" font-weight="normal" font-style="normal" stroke="#231f20" stroke-width="0.3">7</text>
<text x="386.5" y="410.3" font-size="13.4" text-anchor="end" fill="#231f20" font-weight="normal" font-style="normal" stroke="#231f20" stroke-width="0.3">5</text>
<text x="371.7" y="358" font-size="13" text-anchor="middle" fill="#231f20" font-weight="normal" font-style="normal" stroke="#231f20" stroke-width="0.3" transform="rotate(-90 371.7 358)">velocity (cm/s)</text>
<line x1="421.2" y1="436" x2="421.2" y2="446.8" stroke="#333" stroke-width="1.2"/>
<text x="410.7" y="447.5" font-size="12" text-anchor="middle" fill="#231f20" font-weight="normal" font-style="normal" stroke="#231f20" stroke-width="0.3">-</text>
<text x="431.5" y="447.2" font-size="11" text-anchor="middle" fill="#231f20" font-weight="normal" font-style="normal" stroke="#231f20" stroke-width="0.3">+</text>
<line x1="476.6" y1="436" x2="476.6" y2="446.8" stroke="#333" stroke-width="1.2"/>
<text x="466.1" y="447.5" font-size="12" text-anchor="middle" fill="#231f20" font-weight="normal" font-style="normal" stroke="#231f20" stroke-width="0.3">-</text>
<text x="486.9" y="447.2" font-size="11" text-anchor="middle" fill="#231f20" font-weight="normal" font-style="normal" stroke="#231f20" stroke-width="0.3">+</text>
<text x="374.5" y="448.6" font-size="12.3" text-anchor="start" fill="#231f20" stroke="#231f20" stroke-width="0.3" textLength="25.2" lengthAdjust="spacingAndGlyphs">light:</text>
<text x="421.1" y="458.9" font-size="14" text-anchor="middle" fill="#231f20" stroke="#231f20" stroke-width="0.3" textLength="40.6" lengthAdjust="spacingAndGlyphs">control</text>
<text x="477" y="458.9" font-size="14" text-anchor="middle" fill="#231f20" stroke="#231f20" stroke-width="0.3" textLength="44.6" lengthAdjust="spacingAndGlyphs">hChR2</text>
<line x1="410.6" y1="292.3" x2="432" y2="292.3" stroke="#231f20" stroke-width="1.5"/>
<text x="421.3" y="287.8" font-size="13" text-anchor="middle" fill="#231f20" font-weight="normal" font-style="normal" stroke="#231f20" stroke-width="0.3">ns</text>
<line x1="465.6" y1="292.3" x2="487" y2="292.3" stroke="#231f20" stroke-width="1.5"/>
<text x="476.3" y="287.8" font-size="13" text-anchor="middle" fill="#231f20" font-weight="normal" font-style="normal" stroke="#231f20" stroke-width="0.3">ns</text>
<line x1="411.3" y1="342.8" x2="431.4" y2="356.5" stroke="#5a5e62" stroke-width="1.3"/>
<line x1="411.3" y1="351" x2="431.4" y2="340.7" stroke="#5a5e62" stroke-width="1.3"/>
<line x1="411.3" y1="376.8" x2="431.4" y2="377" stroke="#5a5e62" stroke-width="1.3"/>
<line x1="411.3" y1="394" x2="431.4" y2="356.5" stroke="#5a5e62" stroke-width="1.3"/>
<line x1="411.3" y1="383.8" x2="431.4" y2="393.6" stroke="#5a5e62" stroke-width="1.3"/>
<line x1="411.3" y1="388.6" x2="431.4" y2="381.3" stroke="#5a5e62" stroke-width="1.3"/>
<line x1="411.3" y1="394" x2="431.4" y2="374.8" stroke="#5a5e62" stroke-width="1.3"/>
<circle cx="411.3" cy="342.8" r="2.65" fill="#5a5e62"/>
<circle cx="431.4" cy="356.5" r="2.65" fill="#5a5e62"/>
<circle cx="411.3" cy="351" r="2.65" fill="#5a5e62"/>
<circle cx="431.4" cy="340.7" r="2.65" fill="#5a5e62"/>
<circle cx="411.3" cy="376.8" r="2.65" fill="#5a5e62"/>
<circle cx="431.4" cy="377" r="2.65" fill="#5a5e62"/>
<circle cx="411.3" cy="394" r="2.65" fill="#5a5e62"/>
<circle cx="431.4" cy="356.5" r="2.65" fill="#5a5e62"/>
<circle cx="411.3" cy="383.8" r="2.65" fill="#5a5e62"/>
<circle cx="431.4" cy="393.6" r="2.65" fill="#5a5e62"/>
<circle cx="411.3" cy="388.6" r="2.65" fill="#5a5e62"/>
<circle cx="431.4" cy="381.3" r="2.65" fill="#5a5e62"/>
<circle cx="411.3" cy="394" r="2.65" fill="#5a5e62"/>
<circle cx="431.4" cy="374.8" r="2.65" fill="#5a5e62"/>
<line x1="466.7" y1="303.5" x2="486.8" y2="349.7" stroke="#3a5fb3" stroke-width="1.3"/>
<line x1="466.7" y1="343.3" x2="486.8" y2="346.6" stroke="#3a5fb3" stroke-width="1.3"/>
<line x1="466.7" y1="345" x2="486.8" y2="349.7" stroke="#3a5fb3" stroke-width="1.3"/>
<line x1="466.7" y1="345" x2="486.8" y2="387.5" stroke="#3a5fb3" stroke-width="1.3"/>
<line x1="466.7" y1="362.2" x2="486.8" y2="349.7" stroke="#3a5fb3" stroke-width="1.3"/>
<line x1="466.7" y1="378.7" x2="486.8" y2="358.4" stroke="#3a5fb3" stroke-width="1.3"/>
<line x1="466.7" y1="393.9" x2="486.8" y2="390.3" stroke="#3a5fb3" stroke-width="1.3"/>
<line x1="466.7" y1="402.9" x2="486.8" y2="375.7" stroke="#3a5fb3" stroke-width="1.3"/>
<circle cx="466.7" cy="303.5" r="2.65" fill="#3a5fb3"/>
<circle cx="486.8" cy="349.7" r="2.65" fill="#3a5fb3"/>
<circle cx="466.7" cy="343.3" r="2.65" fill="#3a5fb3"/>
<circle cx="486.8" cy="346.6" r="2.65" fill="#3a5fb3"/>
<circle cx="466.7" cy="345" r="2.65" fill="#3a5fb3"/>
<circle cx="486.8" cy="349.7" r="2.65" fill="#3a5fb3"/>
<circle cx="466.7" cy="345" r="2.65" fill="#3a5fb3"/>
<circle cx="486.8" cy="387.5" r="2.65" fill="#3a5fb3"/>
<circle cx="466.7" cy="362.2" r="2.65" fill="#3a5fb3"/>
<circle cx="486.8" cy="349.7" r="2.65" fill="#3a5fb3"/>
<circle cx="466.7" cy="378.7" r="2.65" fill="#3a5fb3"/>
<circle cx="486.8" cy="358.4" r="2.65" fill="#3a5fb3"/>
<circle cx="466.7" cy="393.9" r="2.65" fill="#3a5fb3"/>
<circle cx="486.8" cy="390.3" r="2.65" fill="#3a5fb3"/>
<circle cx="466.7" cy="402.9" r="2.65" fill="#3a5fb3"/>
<circle cx="486.8" cy="375.7" r="2.65" fill="#3a5fb3"/>
<line x1="583.5" y1="282.3" x2="583.5" y2="436.1" stroke="#333" stroke-width="1.4"/>
<line x1="577" y1="436.1" x2="685" y2="436.1" stroke="#333" stroke-width="1.4"/>
<line x1="577" y1="282.3" x2="583.5" y2="282.3" stroke="#333" stroke-width="1.2"/>
<line x1="577" y1="320.9" x2="583.5" y2="320.9" stroke="#333" stroke-width="1.2"/>
<line x1="577" y1="359.5" x2="583.5" y2="359.5" stroke="#333" stroke-width="1.2"/>
<line x1="577" y1="398.1" x2="583.5" y2="398.1" stroke="#333" stroke-width="1.2"/>
<text x="572.7" y="325.7" font-size="13.4" text-anchor="end" fill="#231f20" font-weight="normal" font-style="normal" stroke="#231f20" stroke-width="0.3">2</text>
<text x="572.7" y="402.9" font-size="13.4" text-anchor="end" fill="#231f20" font-weight="normal" font-style="normal" stroke="#231f20" stroke-width="0.3">1</text>
<text x="557.7" y="357" font-size="13" text-anchor="middle" fill="#231f20" font-weight="normal" font-style="normal" stroke="#231f20" stroke-width="0.3" transform="rotate(-90 557.7 357)">distance (cm)</text>
<line x1="606.7" y1="436.1" x2="606.7" y2="446.9" stroke="#333" stroke-width="1.2"/>
<text x="596.2" y="447.6" font-size="12" text-anchor="middle" fill="#231f20" font-weight="normal" font-style="normal" stroke="#231f20" stroke-width="0.3">-</text>
<text x="617" y="447.3" font-size="11" text-anchor="middle" fill="#231f20" font-weight="normal" font-style="normal" stroke="#231f20" stroke-width="0.3">+</text>
<line x1="661.1" y1="436.1" x2="661.1" y2="446.9" stroke="#333" stroke-width="1.2"/>
<text x="650.6" y="447.6" font-size="12" text-anchor="middle" fill="#231f20" font-weight="normal" font-style="normal" stroke="#231f20" stroke-width="0.3">-</text>
<text x="671.4" y="447.3" font-size="11" text-anchor="middle" fill="#231f20" font-weight="normal" font-style="normal" stroke="#231f20" stroke-width="0.3">+</text>
<text x="560.4" y="448.7" font-size="12.3" text-anchor="start" fill="#231f20" stroke="#231f20" stroke-width="0.3" textLength="25.2" lengthAdjust="spacingAndGlyphs">light:</text>
<text x="606.65" y="459" font-size="14" text-anchor="middle" fill="#231f20" stroke="#231f20" stroke-width="0.3" textLength="40.6" lengthAdjust="spacingAndGlyphs">control</text>
<text x="661.2" y="459" font-size="14" text-anchor="middle" fill="#231f20" stroke="#231f20" stroke-width="0.3" textLength="44.6" lengthAdjust="spacingAndGlyphs">hChR2</text>
<line x1="596.2" y1="298.5" x2="617.6" y2="298.5" stroke="#231f20" stroke-width="1.5"/>
<text x="606.9" y="294" font-size="13" text-anchor="middle" fill="#231f20" font-weight="normal" font-style="normal" stroke="#231f20" stroke-width="0.3">ns</text>
<line x1="651.1" y1="298.5" x2="672.5" y2="298.5" stroke="#231f20" stroke-width="1.5"/>
<text x="661.8" y="294" font-size="13" text-anchor="middle" fill="#231f20" font-weight="normal" font-style="normal" stroke="#231f20" stroke-width="0.3">ns</text>
<line x1="596.8" y1="308.1" x2="616.9" y2="326.8" stroke="#5a5e62" stroke-width="1.3"/>
<line x1="596.8" y1="348.6" x2="616.9" y2="330.6" stroke="#5a5e62" stroke-width="1.3"/>
<line x1="596.8" y1="348.6" x2="616.9" y2="350.8" stroke="#5a5e62" stroke-width="1.3"/>
<line x1="596.8" y1="356.8" x2="616.9" y2="348.9" stroke="#5a5e62" stroke-width="1.3"/>
<line x1="596.8" y1="378.9" x2="616.9" y2="391.7" stroke="#5a5e62" stroke-width="1.3"/>
<line x1="596.8" y1="392.1" x2="616.9" y2="354.6" stroke="#5a5e62" stroke-width="1.3"/>
<line x1="596.8" y1="396.9" x2="616.9" y2="386.8" stroke="#5a5e62" stroke-width="1.3"/>
<circle cx="596.8" cy="308.1" r="2.65" fill="#5a5e62"/>
<circle cx="616.9" cy="326.8" r="2.65" fill="#5a5e62"/>
<circle cx="596.8" cy="348.6" r="2.65" fill="#5a5e62"/>
<circle cx="616.9" cy="330.6" r="2.65" fill="#5a5e62"/>
<circle cx="596.8" cy="348.6" r="2.65" fill="#5a5e62"/>
<circle cx="616.9" cy="350.8" r="2.65" fill="#5a5e62"/>
<circle cx="596.8" cy="356.8" r="2.65" fill="#5a5e62"/>
<circle cx="616.9" cy="348.9" r="2.65" fill="#5a5e62"/>
<circle cx="596.8" cy="378.9" r="2.65" fill="#5a5e62"/>
<circle cx="616.9" cy="391.7" r="2.65" fill="#5a5e62"/>
<circle cx="596.8" cy="392.1" r="2.65" fill="#5a5e62"/>
<circle cx="616.9" cy="354.6" r="2.65" fill="#5a5e62"/>
<circle cx="596.8" cy="396.9" r="2.65" fill="#5a5e62"/>
<circle cx="616.9" cy="386.8" r="2.65" fill="#5a5e62"/>
<line x1="651.2" y1="315.9" x2="671.3" y2="357.3" stroke="#3a5fb3" stroke-width="1.3"/>
<line x1="651.2" y1="320.4" x2="671.3" y2="359.5" stroke="#3a5fb3" stroke-width="1.3"/>
<line x1="651.2" y1="324.7" x2="671.3" y2="328.6" stroke="#3a5fb3" stroke-width="1.3"/>
<line x1="651.2" y1="326.5" x2="671.3" y2="334.6" stroke="#3a5fb3" stroke-width="1.3"/>
<line x1="651.2" y1="348.8" x2="671.3" y2="334.6" stroke="#3a5fb3" stroke-width="1.3"/>
<line x1="651.2" y1="377.7" x2="671.3" y2="359.5" stroke="#3a5fb3" stroke-width="1.3"/>
<line x1="651.2" y1="387.9" x2="671.3" y2="357.3" stroke="#3a5fb3" stroke-width="1.3"/>
<line x1="651.2" y1="387.9" x2="671.3" y2="367" stroke="#3a5fb3" stroke-width="1.3"/>
<circle cx="651.2" cy="315.9" r="2.65" fill="#3a5fb3"/>
<circle cx="671.3" cy="357.3" r="2.65" fill="#3a5fb3"/>
<circle cx="651.2" cy="320.4" r="2.65" fill="#3a5fb3"/>
<circle cx="671.3" cy="359.5" r="2.65" fill="#3a5fb3"/>
<circle cx="651.2" cy="324.7" r="2.65" fill="#3a5fb3"/>
<circle cx="671.3" cy="328.6" r="2.65" fill="#3a5fb3"/>
<circle cx="651.2" cy="326.5" r="2.65" fill="#3a5fb3"/>
<circle cx="671.3" cy="334.6" r="2.65" fill="#3a5fb3"/>
<circle cx="651.2" cy="348.8" r="2.65" fill="#3a5fb3"/>
<circle cx="671.3" cy="334.6" r="2.65" fill="#3a5fb3"/>
<circle cx="651.2" cy="377.7" r="2.65" fill="#3a5fb3"/>
<circle cx="671.3" cy="359.5" r="2.65" fill="#3a5fb3"/>
<circle cx="651.2" cy="387.9" r="2.65" fill="#3a5fb3"/>
<circle cx="671.3" cy="357.3" r="2.65" fill="#3a5fb3"/>
<circle cx="651.2" cy="387.9" r="2.65" fill="#3a5fb3"/>
<circle cx="671.3" cy="367" r="2.65" fill="#3a5fb3"/>
</svg>
</body></html>
